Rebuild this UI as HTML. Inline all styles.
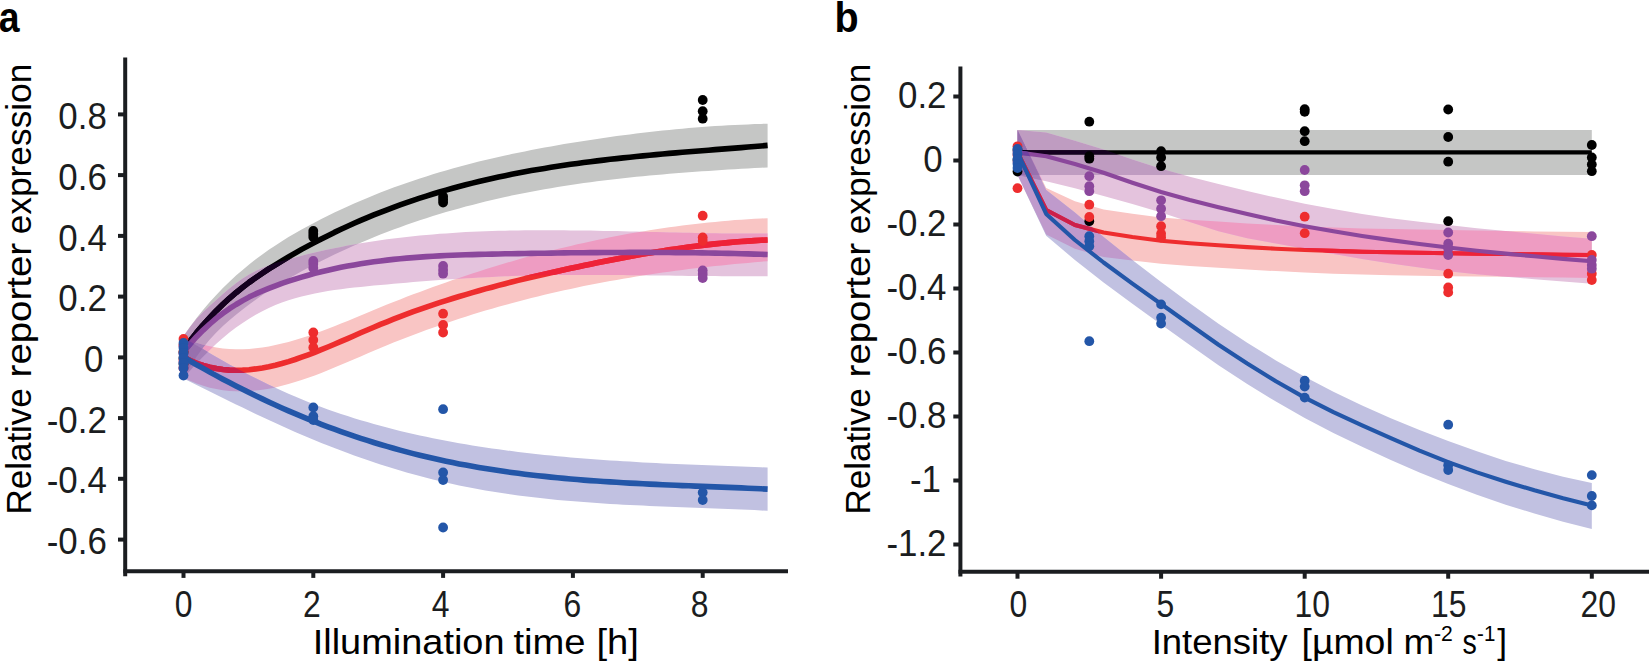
<!DOCTYPE html>
<html><head><meta charset="utf-8"><title>Figure</title>
<style>
html,body{margin:0;padding:0;background:#fff;}
svg{display:block;}
</style></head>
<body>
<svg width="1649" height="661" viewBox="0 0 1649 661">
<rect width="1649" height="661" fill="#fff"/>
<g id="panelA">
<defs><clipPath id="a_black"><path d="M183.5,335.9 L190.1,326.7 L196.6,317.9 L203.2,309.8 L209.8,302.1 L216.3,294.9 L222.9,288.1 L229.4,281.7 L236,275.6 L242.6,269.9 L249.1,264.5 L255.7,259.3 L262.3,254.4 L268.8,249.8 L275.4,245.4 L281.9,241.2 L288.5,237.1 L295.1,233.3 L301.6,229.6 L308.2,226 L314.8,222.5 L321.3,219.1 L327.9,215.8 L334.4,212.6 L341,209.5 L347.6,206.5 L354.1,203.6 L360.7,200.7 L367.3,197.9 L373.8,195.3 L380.4,192.6 L387,190.1 L393.5,187.6 L400.1,185.2 L406.6,182.9 L413.2,180.7 L419.8,178.5 L426.3,176.4 L432.9,174.3 L439.5,172.3 L446,170.4 L452.6,168.5 L459.1,166.7 L465.7,164.9 L472.3,163.2 L478.8,161.6 L485.4,160 L492,158.4 L498.5,156.9 L505.1,155.5 L511.6,154.1 L518.2,152.7 L524.8,151.4 L531.3,150.1 L537.9,148.8 L544.5,147.6 L551,146.4 L557.6,145.2 L564.1,144.1 L570.7,143 L577.3,142 L583.8,140.9 L590.4,139.9 L597,138.9 L603.5,138 L610.1,137 L616.7,136.1 L623.2,135.2 L629.8,134.4 L636.3,133.6 L642.9,132.8 L649.5,132 L656,131.3 L662.6,130.6 L669.2,129.9 L675.7,129.3 L682.3,128.7 L688.8,128.1 L695.4,127.6 L702,127 L708.5,126.6 L715.1,126.1 L721.7,125.7 L728.2,125.3 L734.8,125 L741.3,124.7 L747.9,124.4 L754.5,124.1 L761,123.9 L767.6,123.7 L767.6,167.4 L761,167.7 L754.5,168.1 L747.9,168.5 L741.3,168.8 L734.8,169.2 L728.2,169.6 L721.7,170 L715.1,170.5 L708.5,170.9 L702,171.3 L695.4,171.8 L688.8,172.3 L682.3,172.8 L675.7,173.3 L669.2,173.8 L662.6,174.4 L656,174.9 L649.5,175.5 L642.9,176.2 L636.3,176.8 L629.8,177.5 L623.2,178.2 L616.7,178.9 L610.1,179.7 L603.5,180.5 L597,181.3 L590.4,182.2 L583.8,183.1 L577.3,184 L570.7,185 L564.1,186 L557.6,187.1 L551,188.2 L544.5,189.3 L537.9,190.5 L531.3,191.7 L524.8,193 L518.2,194.3 L511.6,195.6 L505.1,197 L498.5,198.5 L492,200 L485.4,201.6 L478.8,203.2 L472.3,204.9 L465.7,206.6 L459.1,208.4 L452.6,210.2 L446,212.1 L439.5,214.1 L432.9,216.1 L426.3,218.2 L419.8,220.3 L413.2,222.6 L406.6,224.8 L400.1,227.2 L393.5,229.6 L387,232.1 L380.4,234.6 L373.8,237.3 L367.3,240 L360.7,242.7 L354.1,245.6 L347.6,248.5 L341,251.5 L334.4,254.6 L327.9,257.8 L321.3,261 L314.8,264.4 L308.2,267.8 L301.6,271.3 L295.1,274.9 L288.5,278.6 L281.9,282.5 L275.4,286.5 L268.8,290.7 L262.3,295.1 L255.7,299.7 L249.1,304.4 L242.6,309.4 L236,314.7 L229.4,320.2 L222.9,326.1 L216.3,332.5 L209.8,339.6 L203.2,347.5 L196.6,356.5 L190.1,366.6 L183.5,377.9Z"/></clipPath><clipPath id="a_red"><path d="M183.5,337.6 L190.1,340.3 L196.6,342.7 L203.2,344.7 L209.8,346.3 L216.3,347.5 L222.9,348.4 L229.4,349 L236,349.2 L242.6,349.2 L249.1,348.9 L255.7,348.3 L262.3,347.5 L268.8,346.4 L275.4,345.1 L281.9,343.6 L288.5,341.9 L295.1,340.1 L301.6,338.1 L308.2,335.9 L314.8,333.6 L321.3,331.2 L327.9,328.8 L334.4,326.2 L341,323.6 L347.6,320.9 L354.1,318.2 L360.7,315.4 L367.3,312.7 L373.8,310 L380.4,307.3 L387,304.6 L393.5,302 L400.1,299.4 L406.6,296.8 L413.2,294.3 L419.8,291.9 L426.3,289.4 L432.9,287 L439.5,284.7 L446,282.4 L452.6,280.1 L459.1,277.9 L465.7,275.7 L472.3,273.5 L478.8,271.4 L485.4,269.3 L492,267.3 L498.5,265.3 L505.1,263.3 L511.6,261.4 L518.2,259.5 L524.8,257.6 L531.3,255.8 L537.9,254.1 L544.5,252.4 L551,250.7 L557.6,249 L564.1,247.4 L570.7,245.9 L577.3,244.3 L583.8,242.9 L590.4,241.4 L597,240 L603.5,238.7 L610.1,237.3 L616.7,236.1 L623.2,234.8 L629.8,233.6 L636.3,232.5 L642.9,231.4 L649.5,230.3 L656,229.3 L662.6,228.3 L669.2,227.3 L675.7,226.4 L682.3,225.5 L688.8,224.7 L695.4,223.9 L702,223.2 L708.5,222.5 L715.1,221.9 L721.7,221.2 L728.2,220.7 L734.8,220.1 L741.3,219.7 L747.9,219.2 L754.5,218.8 L761,218.5 L767.6,218.2 L767.6,261.2 L761,261.7 L754.5,262.3 L747.9,262.9 L741.3,263.5 L734.8,264.1 L728.2,264.7 L721.7,265.4 L715.1,266.1 L708.5,266.8 L702,267.5 L695.4,268.3 L688.8,269.1 L682.3,269.9 L675.7,270.8 L669.2,271.7 L662.6,272.6 L656,273.6 L649.5,274.5 L642.9,275.5 L636.3,276.6 L629.8,277.7 L623.2,278.8 L616.7,279.9 L610.1,281.1 L603.5,282.3 L597,283.5 L590.4,284.8 L583.8,286.1 L577.3,287.5 L570.7,288.9 L564.1,290.3 L557.6,291.8 L551,293.3 L544.5,294.8 L537.9,296.4 L531.3,298.1 L524.8,299.7 L518.2,301.4 L511.6,303.2 L505.1,305 L498.5,306.8 L492,308.7 L485.4,310.6 L478.8,312.6 L472.3,314.6 L465.7,316.7 L459.1,318.8 L452.6,321 L446,323.2 L439.5,325.4 L432.9,327.7 L426.3,330.1 L419.8,332.5 L413.2,334.9 L406.6,337.4 L400.1,340 L393.5,342.6 L387,345.3 L380.4,348 L373.8,350.7 L367.3,353.5 L360.7,356.4 L354.1,359.2 L347.6,362 L341,364.8 L334.4,367.6 L327.9,370.3 L321.3,372.9 L314.8,375.4 L308.2,377.8 L301.6,380 L295.1,382.1 L288.5,384.1 L281.9,385.8 L275.4,387.4 L268.8,388.7 L262.3,389.8 L255.7,390.6 L249.1,391.1 L242.6,391.4 L236,391.3 L229.4,391 L222.9,390.2 L216.3,389.1 L209.8,387.7 L203.2,385.8 L196.6,383.5 L190.1,380.8 L183.5,377.6Z"/></clipPath><clipPath id="a_purple"><path d="M183.5,336 L190.1,326.7 L196.6,318.8 L203.2,311.9 L209.8,305.7 L216.3,299.9 L222.9,294.1 L229.4,288.5 L236,283.3 L242.6,278.6 L249.1,274.5 L255.7,271 L262.3,268 L268.8,265.4 L275.4,263.1 L281.9,261.1 L288.5,259.2 L295.1,257.4 L301.6,255.7 L308.2,254.1 L314.8,252.5 L321.3,251 L327.9,249.6 L334.4,248.2 L341,246.9 L347.6,245.6 L354.1,244.4 L360.7,243.3 L367.3,242.2 L373.8,241.2 L380.4,240.2 L387,239.3 L393.5,238.5 L400.1,237.7 L406.6,236.9 L413.2,236.2 L419.8,235.6 L426.3,234.9 L432.9,234.4 L439.5,233.8 L446,233.4 L452.6,232.9 L459.1,232.5 L465.7,232.1 L472.3,231.8 L478.8,231.5 L485.4,231.3 L492,231 L498.5,230.8 L505.1,230.7 L511.6,230.5 L518.2,230.4 L524.8,230.3 L531.3,230.3 L537.9,230.2 L544.5,230.2 L551,230.2 L557.6,230.2 L564.1,230.3 L570.7,230.4 L577.3,230.4 L583.8,230.5 L590.4,230.6 L597,230.7 L603.5,230.9 L610.1,231 L616.7,231.1 L623.2,231.3 L629.8,231.4 L636.3,231.6 L642.9,231.8 L649.5,231.9 L656,232.1 L662.6,232.2 L669.2,232.4 L675.7,232.5 L682.3,232.7 L688.8,232.8 L695.4,233 L702,233.1 L708.5,233.2 L715.1,233.3 L721.7,233.4 L728.2,233.4 L734.8,233.5 L741.3,233.5 L747.9,233.6 L754.5,233.6 L761,233.5 L767.6,233.5 L767.6,276.2 L761,276.2 L754.5,276.2 L747.9,276.3 L741.3,276.3 L734.8,276.2 L728.2,276.2 L721.7,276.2 L715.1,276.1 L708.5,276.1 L702,276 L695.4,275.9 L688.8,275.9 L682.3,275.8 L675.7,275.7 L669.2,275.6 L662.6,275.5 L656,275.5 L649.5,275.4 L642.9,275.3 L636.3,275.2 L629.8,275.2 L623.2,275.1 L616.7,275 L610.1,275 L603.5,274.9 L597,274.9 L590.4,274.9 L583.8,274.9 L577.3,274.9 L570.7,274.9 L564.1,275 L557.6,275 L551,275.1 L544.5,275.2 L537.9,275.3 L531.3,275.5 L524.8,275.7 L518.2,275.8 L511.6,276.1 L505.1,276.3 L498.5,276.6 L492,276.9 L485.4,277.2 L478.8,277.5 L472.3,277.9 L465.7,278.3 L459.1,278.7 L452.6,279.2 L446,279.6 L439.5,280.1 L432.9,280.6 L426.3,281.1 L419.8,281.6 L413.2,282.1 L406.6,282.7 L400.1,283.2 L393.5,283.8 L387,284.4 L380.4,285 L373.8,285.6 L367.3,286.2 L360.7,286.9 L354.1,287.6 L347.6,288.3 L341,289.2 L334.4,290.1 L327.9,291.1 L321.3,292.2 L314.8,293.5 L308.2,294.9 L301.6,296.5 L295.1,298.2 L288.5,300.3 L281.9,302.5 L275.4,305.1 L268.8,308 L262.3,311.2 L255.7,314.8 L249.1,318.7 L242.6,322.9 L236,327.6 L229.4,332.6 L222.9,338 L216.3,343.7 L209.8,349.9 L203.2,356.4 L196.6,363.2 L190.1,370.4 L183.5,378Z"/></clipPath><clipPath id="a_blue"><path d="M183.5,337.4 L190.1,341.4 L196.6,345.4 L203.2,349.3 L209.8,353.2 L216.3,357 L222.9,360.7 L229.4,364.4 L236,368 L242.6,371.5 L249.1,374.9 L255.7,378.3 L262.3,381.6 L268.8,384.7 L275.4,387.8 L281.9,390.8 L288.5,393.8 L295.1,396.6 L301.6,399.3 L308.2,401.9 L314.8,404.5 L321.3,407 L327.9,409.4 L334.4,411.7 L341,413.9 L347.6,416.1 L354.1,418.2 L360.7,420.2 L367.3,422.1 L373.8,424 L380.4,425.8 L387,427.6 L393.5,429.3 L400.1,430.9 L406.6,432.5 L413.2,434 L419.8,435.4 L426.3,436.8 L432.9,438.2 L439.5,439.5 L446,440.8 L452.6,442 L459.1,443.2 L465.7,444.3 L472.3,445.4 L478.8,446.4 L485.4,447.4 L492,448.4 L498.5,449.3 L505.1,450.2 L511.6,451.1 L518.2,451.9 L524.8,452.7 L531.3,453.5 L537.9,454.2 L544.5,454.9 L551,455.6 L557.6,456.2 L564.1,456.8 L570.7,457.4 L577.3,458 L583.8,458.5 L590.4,459 L597,459.5 L603.5,460 L610.1,460.4 L616.7,460.8 L623.2,461.2 L629.8,461.6 L636.3,462 L642.9,462.4 L649.5,462.7 L656,463 L662.6,463.4 L669.2,463.7 L675.7,464 L682.3,464.2 L688.8,464.5 L695.4,464.8 L702,465.1 L708.5,465.3 L715.1,465.6 L721.7,465.8 L728.2,466.1 L734.8,466.3 L741.3,466.6 L747.9,466.8 L754.5,467.1 L761,467.3 L767.6,467.6 L767.6,510.8 L761,510.5 L754.5,510.1 L747.9,509.8 L741.3,509.5 L734.8,509.3 L728.2,509 L721.7,508.7 L715.1,508.5 L708.5,508.2 L702,508 L695.4,507.8 L688.8,507.5 L682.3,507.3 L675.7,507 L669.2,506.8 L662.6,506.5 L656,506.2 L649.5,505.9 L642.9,505.6 L636.3,505.3 L629.8,505 L623.2,504.7 L616.7,504.3 L610.1,503.9 L603.5,503.5 L597,503.1 L590.4,502.6 L583.8,502.1 L577.3,501.6 L570.7,501.1 L564.1,500.5 L557.6,499.9 L551,499.3 L544.5,498.6 L537.9,497.8 L531.3,497.1 L524.8,496.3 L518.2,495.4 L511.6,494.5 L505.1,493.6 L498.5,492.6 L492,491.5 L485.4,490.4 L478.8,489.2 L472.3,488 L465.7,486.7 L459.1,485.4 L452.6,484 L446,482.6 L439.5,481 L432.9,479.4 L426.3,477.8 L419.8,476.1 L413.2,474.3 L406.6,472.4 L400.1,470.5 L393.5,468.5 L387,466.5 L380.4,464.4 L373.8,462.2 L367.3,460 L360.7,457.8 L354.1,455.4 L347.6,453 L341,450.6 L334.4,448.1 L327.9,445.5 L321.3,442.9 L314.8,440.2 L308.2,437.5 L301.6,434.8 L295.1,431.9 L288.5,429 L281.9,426.1 L275.4,423.1 L268.8,420.1 L262.3,417 L255.7,413.9 L249.1,410.8 L242.6,407.6 L236,404.4 L229.4,401.2 L222.9,398 L216.3,394.8 L209.8,391.5 L203.2,388.3 L196.6,385.1 L190.1,381.8 L183.5,378.6Z"/></clipPath></defs>
<path d="M183.5,335.9 L190.1,326.7 L196.6,317.9 L203.2,309.8 L209.8,302.1 L216.3,294.9 L222.9,288.1 L229.4,281.7 L236,275.6 L242.6,269.9 L249.1,264.5 L255.7,259.3 L262.3,254.4 L268.8,249.8 L275.4,245.4 L281.9,241.2 L288.5,237.1 L295.1,233.3 L301.6,229.6 L308.2,226 L314.8,222.5 L321.3,219.1 L327.9,215.8 L334.4,212.6 L341,209.5 L347.6,206.5 L354.1,203.6 L360.7,200.7 L367.3,197.9 L373.8,195.3 L380.4,192.6 L387,190.1 L393.5,187.6 L400.1,185.2 L406.6,182.9 L413.2,180.7 L419.8,178.5 L426.3,176.4 L432.9,174.3 L439.5,172.3 L446,170.4 L452.6,168.5 L459.1,166.7 L465.7,164.9 L472.3,163.2 L478.8,161.6 L485.4,160 L492,158.4 L498.5,156.9 L505.1,155.5 L511.6,154.1 L518.2,152.7 L524.8,151.4 L531.3,150.1 L537.9,148.8 L544.5,147.6 L551,146.4 L557.6,145.2 L564.1,144.1 L570.7,143 L577.3,142 L583.8,140.9 L590.4,139.9 L597,138.9 L603.5,138 L610.1,137 L616.7,136.1 L623.2,135.2 L629.8,134.4 L636.3,133.6 L642.9,132.8 L649.5,132 L656,131.3 L662.6,130.6 L669.2,129.9 L675.7,129.3 L682.3,128.7 L688.8,128.1 L695.4,127.6 L702,127 L708.5,126.6 L715.1,126.1 L721.7,125.7 L728.2,125.3 L734.8,125 L741.3,124.7 L747.9,124.4 L754.5,124.1 L761,123.9 L767.6,123.7 L767.6,167.4 L761,167.7 L754.5,168.1 L747.9,168.5 L741.3,168.8 L734.8,169.2 L728.2,169.6 L721.7,170 L715.1,170.5 L708.5,170.9 L702,171.3 L695.4,171.8 L688.8,172.3 L682.3,172.8 L675.7,173.3 L669.2,173.8 L662.6,174.4 L656,174.9 L649.5,175.5 L642.9,176.2 L636.3,176.8 L629.8,177.5 L623.2,178.2 L616.7,178.9 L610.1,179.7 L603.5,180.5 L597,181.3 L590.4,182.2 L583.8,183.1 L577.3,184 L570.7,185 L564.1,186 L557.6,187.1 L551,188.2 L544.5,189.3 L537.9,190.5 L531.3,191.7 L524.8,193 L518.2,194.3 L511.6,195.6 L505.1,197 L498.5,198.5 L492,200 L485.4,201.6 L478.8,203.2 L472.3,204.9 L465.7,206.6 L459.1,208.4 L452.6,210.2 L446,212.1 L439.5,214.1 L432.9,216.1 L426.3,218.2 L419.8,220.3 L413.2,222.6 L406.6,224.8 L400.1,227.2 L393.5,229.6 L387,232.1 L380.4,234.6 L373.8,237.3 L367.3,240 L360.7,242.7 L354.1,245.6 L347.6,248.5 L341,251.5 L334.4,254.6 L327.9,257.8 L321.3,261 L314.8,264.4 L308.2,267.8 L301.6,271.3 L295.1,274.9 L288.5,278.6 L281.9,282.5 L275.4,286.5 L268.8,290.7 L262.3,295.1 L255.7,299.7 L249.1,304.4 L242.6,309.4 L236,314.7 L229.4,320.2 L222.9,326.1 L216.3,332.5 L209.8,339.6 L203.2,347.5 L196.6,356.5 L190.1,366.6 L183.5,377.9Z" fill="#c5c6c5"/>
<path d="M183.5,337.6 L190.1,340.3 L196.6,342.7 L203.2,344.7 L209.8,346.3 L216.3,347.5 L222.9,348.4 L229.4,349 L236,349.2 L242.6,349.2 L249.1,348.9 L255.7,348.3 L262.3,347.5 L268.8,346.4 L275.4,345.1 L281.9,343.6 L288.5,341.9 L295.1,340.1 L301.6,338.1 L308.2,335.9 L314.8,333.6 L321.3,331.2 L327.9,328.8 L334.4,326.2 L341,323.6 L347.6,320.9 L354.1,318.2 L360.7,315.4 L367.3,312.7 L373.8,310 L380.4,307.3 L387,304.6 L393.5,302 L400.1,299.4 L406.6,296.8 L413.2,294.3 L419.8,291.9 L426.3,289.4 L432.9,287 L439.5,284.7 L446,282.4 L452.6,280.1 L459.1,277.9 L465.7,275.7 L472.3,273.5 L478.8,271.4 L485.4,269.3 L492,267.3 L498.5,265.3 L505.1,263.3 L511.6,261.4 L518.2,259.5 L524.8,257.6 L531.3,255.8 L537.9,254.1 L544.5,252.4 L551,250.7 L557.6,249 L564.1,247.4 L570.7,245.9 L577.3,244.3 L583.8,242.9 L590.4,241.4 L597,240 L603.5,238.7 L610.1,237.3 L616.7,236.1 L623.2,234.8 L629.8,233.6 L636.3,232.5 L642.9,231.4 L649.5,230.3 L656,229.3 L662.6,228.3 L669.2,227.3 L675.7,226.4 L682.3,225.5 L688.8,224.7 L695.4,223.9 L702,223.2 L708.5,222.5 L715.1,221.9 L721.7,221.2 L728.2,220.7 L734.8,220.1 L741.3,219.7 L747.9,219.2 L754.5,218.8 L761,218.5 L767.6,218.2 L767.6,261.2 L761,261.7 L754.5,262.3 L747.9,262.9 L741.3,263.5 L734.8,264.1 L728.2,264.7 L721.7,265.4 L715.1,266.1 L708.5,266.8 L702,267.5 L695.4,268.3 L688.8,269.1 L682.3,269.9 L675.7,270.8 L669.2,271.7 L662.6,272.6 L656,273.6 L649.5,274.5 L642.9,275.5 L636.3,276.6 L629.8,277.7 L623.2,278.8 L616.7,279.9 L610.1,281.1 L603.5,282.3 L597,283.5 L590.4,284.8 L583.8,286.1 L577.3,287.5 L570.7,288.9 L564.1,290.3 L557.6,291.8 L551,293.3 L544.5,294.8 L537.9,296.4 L531.3,298.1 L524.8,299.7 L518.2,301.4 L511.6,303.2 L505.1,305 L498.5,306.8 L492,308.7 L485.4,310.6 L478.8,312.6 L472.3,314.6 L465.7,316.7 L459.1,318.8 L452.6,321 L446,323.2 L439.5,325.4 L432.9,327.7 L426.3,330.1 L419.8,332.5 L413.2,334.9 L406.6,337.4 L400.1,340 L393.5,342.6 L387,345.3 L380.4,348 L373.8,350.7 L367.3,353.5 L360.7,356.4 L354.1,359.2 L347.6,362 L341,364.8 L334.4,367.6 L327.9,370.3 L321.3,372.9 L314.8,375.4 L308.2,377.8 L301.6,380 L295.1,382.1 L288.5,384.1 L281.9,385.8 L275.4,387.4 L268.8,388.7 L262.3,389.8 L255.7,390.6 L249.1,391.1 L242.6,391.4 L236,391.3 L229.4,391 L222.9,390.2 L216.3,389.1 L209.8,387.7 L203.2,385.8 L196.6,383.5 L190.1,380.8 L183.5,377.6Z" fill="#f9c5c4"/>
<path d="M183.5,336 L190.1,326.7 L196.6,318.8 L203.2,311.9 L209.8,305.7 L216.3,299.9 L222.9,294.1 L229.4,288.5 L236,283.3 L242.6,278.6 L249.1,274.5 L255.7,271 L262.3,268 L268.8,265.4 L275.4,263.1 L281.9,261.1 L288.5,259.2 L295.1,257.4 L301.6,255.7 L308.2,254.1 L314.8,252.5 L321.3,251 L327.9,249.6 L334.4,248.2 L341,246.9 L347.6,245.6 L354.1,244.4 L360.7,243.3 L367.3,242.2 L373.8,241.2 L380.4,240.2 L387,239.3 L393.5,238.5 L400.1,237.7 L406.6,236.9 L413.2,236.2 L419.8,235.6 L426.3,234.9 L432.9,234.4 L439.5,233.8 L446,233.4 L452.6,232.9 L459.1,232.5 L465.7,232.1 L472.3,231.8 L478.8,231.5 L485.4,231.3 L492,231 L498.5,230.8 L505.1,230.7 L511.6,230.5 L518.2,230.4 L524.8,230.3 L531.3,230.3 L537.9,230.2 L544.5,230.2 L551,230.2 L557.6,230.2 L564.1,230.3 L570.7,230.4 L577.3,230.4 L583.8,230.5 L590.4,230.6 L597,230.7 L603.5,230.9 L610.1,231 L616.7,231.1 L623.2,231.3 L629.8,231.4 L636.3,231.6 L642.9,231.8 L649.5,231.9 L656,232.1 L662.6,232.2 L669.2,232.4 L675.7,232.5 L682.3,232.7 L688.8,232.8 L695.4,233 L702,233.1 L708.5,233.2 L715.1,233.3 L721.7,233.4 L728.2,233.4 L734.8,233.5 L741.3,233.5 L747.9,233.6 L754.5,233.6 L761,233.5 L767.6,233.5 L767.6,276.2 L761,276.2 L754.5,276.2 L747.9,276.3 L741.3,276.3 L734.8,276.2 L728.2,276.2 L721.7,276.2 L715.1,276.1 L708.5,276.1 L702,276 L695.4,275.9 L688.8,275.9 L682.3,275.8 L675.7,275.7 L669.2,275.6 L662.6,275.5 L656,275.5 L649.5,275.4 L642.9,275.3 L636.3,275.2 L629.8,275.2 L623.2,275.1 L616.7,275 L610.1,275 L603.5,274.9 L597,274.9 L590.4,274.9 L583.8,274.9 L577.3,274.9 L570.7,274.9 L564.1,275 L557.6,275 L551,275.1 L544.5,275.2 L537.9,275.3 L531.3,275.5 L524.8,275.7 L518.2,275.8 L511.6,276.1 L505.1,276.3 L498.5,276.6 L492,276.9 L485.4,277.2 L478.8,277.5 L472.3,277.9 L465.7,278.3 L459.1,278.7 L452.6,279.2 L446,279.6 L439.5,280.1 L432.9,280.6 L426.3,281.1 L419.8,281.6 L413.2,282.1 L406.6,282.7 L400.1,283.2 L393.5,283.8 L387,284.4 L380.4,285 L373.8,285.6 L367.3,286.2 L360.7,286.9 L354.1,287.6 L347.6,288.3 L341,289.2 L334.4,290.1 L327.9,291.1 L321.3,292.2 L314.8,293.5 L308.2,294.9 L301.6,296.5 L295.1,298.2 L288.5,300.3 L281.9,302.5 L275.4,305.1 L268.8,308 L262.3,311.2 L255.7,314.8 L249.1,318.7 L242.6,322.9 L236,327.6 L229.4,332.6 L222.9,338 L216.3,343.7 L209.8,349.9 L203.2,356.4 L196.6,363.2 L190.1,370.4 L183.5,378Z" fill="#e4c3dd"/>
<path d="M183.5,337.4 L190.1,341.4 L196.6,345.4 L203.2,349.3 L209.8,353.2 L216.3,357 L222.9,360.7 L229.4,364.4 L236,368 L242.6,371.5 L249.1,374.9 L255.7,378.3 L262.3,381.6 L268.8,384.7 L275.4,387.8 L281.9,390.8 L288.5,393.8 L295.1,396.6 L301.6,399.3 L308.2,401.9 L314.8,404.5 L321.3,407 L327.9,409.4 L334.4,411.7 L341,413.9 L347.6,416.1 L354.1,418.2 L360.7,420.2 L367.3,422.1 L373.8,424 L380.4,425.8 L387,427.6 L393.5,429.3 L400.1,430.9 L406.6,432.5 L413.2,434 L419.8,435.4 L426.3,436.8 L432.9,438.2 L439.5,439.5 L446,440.8 L452.6,442 L459.1,443.2 L465.7,444.3 L472.3,445.4 L478.8,446.4 L485.4,447.4 L492,448.4 L498.5,449.3 L505.1,450.2 L511.6,451.1 L518.2,451.9 L524.8,452.7 L531.3,453.5 L537.9,454.2 L544.5,454.9 L551,455.6 L557.6,456.2 L564.1,456.8 L570.7,457.4 L577.3,458 L583.8,458.5 L590.4,459 L597,459.5 L603.5,460 L610.1,460.4 L616.7,460.8 L623.2,461.2 L629.8,461.6 L636.3,462 L642.9,462.4 L649.5,462.7 L656,463 L662.6,463.4 L669.2,463.7 L675.7,464 L682.3,464.2 L688.8,464.5 L695.4,464.8 L702,465.1 L708.5,465.3 L715.1,465.6 L721.7,465.8 L728.2,466.1 L734.8,466.3 L741.3,466.6 L747.9,466.8 L754.5,467.1 L761,467.3 L767.6,467.6 L767.6,510.8 L761,510.5 L754.5,510.1 L747.9,509.8 L741.3,509.5 L734.8,509.3 L728.2,509 L721.7,508.7 L715.1,508.5 L708.5,508.2 L702,508 L695.4,507.8 L688.8,507.5 L682.3,507.3 L675.7,507 L669.2,506.8 L662.6,506.5 L656,506.2 L649.5,505.9 L642.9,505.6 L636.3,505.3 L629.8,505 L623.2,504.7 L616.7,504.3 L610.1,503.9 L603.5,503.5 L597,503.1 L590.4,502.6 L583.8,502.1 L577.3,501.6 L570.7,501.1 L564.1,500.5 L557.6,499.9 L551,499.3 L544.5,498.6 L537.9,497.8 L531.3,497.1 L524.8,496.3 L518.2,495.4 L511.6,494.5 L505.1,493.6 L498.5,492.6 L492,491.5 L485.4,490.4 L478.8,489.2 L472.3,488 L465.7,486.7 L459.1,485.4 L452.6,484 L446,482.6 L439.5,481 L432.9,479.4 L426.3,477.8 L419.8,476.1 L413.2,474.3 L406.6,472.4 L400.1,470.5 L393.5,468.5 L387,466.5 L380.4,464.4 L373.8,462.2 L367.3,460 L360.7,457.8 L354.1,455.4 L347.6,453 L341,450.6 L334.4,448.1 L327.9,445.5 L321.3,442.9 L314.8,440.2 L308.2,437.5 L301.6,434.8 L295.1,431.9 L288.5,429 L281.9,426.1 L275.4,423.1 L268.8,420.1 L262.3,417 L255.7,413.9 L249.1,410.8 L242.6,407.6 L236,404.4 L229.4,401.2 L222.9,398 L216.3,394.8 L209.8,391.5 L203.2,388.3 L196.6,385.1 L190.1,381.8 L183.5,378.6Z" fill="#c1c1e1"/>
<g clip-path="url(#a_black)"><path d="M183.5,337.6 L190.1,340.3 L196.6,342.7 L203.2,344.7 L209.8,346.3 L216.3,347.5 L222.9,348.4 L229.4,349 L236,349.2 L242.6,349.2 L249.1,348.9 L255.7,348.3 L262.3,347.5 L268.8,346.4 L275.4,345.1 L281.9,343.6 L288.5,341.9 L295.1,340.1 L301.6,338.1 L308.2,335.9 L314.8,333.6 L321.3,331.2 L327.9,328.8 L334.4,326.2 L341,323.6 L347.6,320.9 L354.1,318.2 L360.7,315.4 L367.3,312.7 L373.8,310 L380.4,307.3 L387,304.6 L393.5,302 L400.1,299.4 L406.6,296.8 L413.2,294.3 L419.8,291.9 L426.3,289.4 L432.9,287 L439.5,284.7 L446,282.4 L452.6,280.1 L459.1,277.9 L465.7,275.7 L472.3,273.5 L478.8,271.4 L485.4,269.3 L492,267.3 L498.5,265.3 L505.1,263.3 L511.6,261.4 L518.2,259.5 L524.8,257.6 L531.3,255.8 L537.9,254.1 L544.5,252.4 L551,250.7 L557.6,249 L564.1,247.4 L570.7,245.9 L577.3,244.3 L583.8,242.9 L590.4,241.4 L597,240 L603.5,238.7 L610.1,237.3 L616.7,236.1 L623.2,234.8 L629.8,233.6 L636.3,232.5 L642.9,231.4 L649.5,230.3 L656,229.3 L662.6,228.3 L669.2,227.3 L675.7,226.4 L682.3,225.5 L688.8,224.7 L695.4,223.9 L702,223.2 L708.5,222.5 L715.1,221.9 L721.7,221.2 L728.2,220.7 L734.8,220.1 L741.3,219.7 L747.9,219.2 L754.5,218.8 L761,218.5 L767.6,218.2 L767.6,261.2 L761,261.7 L754.5,262.3 L747.9,262.9 L741.3,263.5 L734.8,264.1 L728.2,264.7 L721.7,265.4 L715.1,266.1 L708.5,266.8 L702,267.5 L695.4,268.3 L688.8,269.1 L682.3,269.9 L675.7,270.8 L669.2,271.7 L662.6,272.6 L656,273.6 L649.5,274.5 L642.9,275.5 L636.3,276.6 L629.8,277.7 L623.2,278.8 L616.7,279.9 L610.1,281.1 L603.5,282.3 L597,283.5 L590.4,284.8 L583.8,286.1 L577.3,287.5 L570.7,288.9 L564.1,290.3 L557.6,291.8 L551,293.3 L544.5,294.8 L537.9,296.4 L531.3,298.1 L524.8,299.7 L518.2,301.4 L511.6,303.2 L505.1,305 L498.5,306.8 L492,308.7 L485.4,310.6 L478.8,312.6 L472.3,314.6 L465.7,316.7 L459.1,318.8 L452.6,321 L446,323.2 L439.5,325.4 L432.9,327.7 L426.3,330.1 L419.8,332.5 L413.2,334.9 L406.6,337.4 L400.1,340 L393.5,342.6 L387,345.3 L380.4,348 L373.8,350.7 L367.3,353.5 L360.7,356.4 L354.1,359.2 L347.6,362 L341,364.8 L334.4,367.6 L327.9,370.3 L321.3,372.9 L314.8,375.4 L308.2,377.8 L301.6,380 L295.1,382.1 L288.5,384.1 L281.9,385.8 L275.4,387.4 L268.8,388.7 L262.3,389.8 L255.7,390.6 L249.1,391.1 L242.6,391.4 L236,391.3 L229.4,391 L222.9,390.2 L216.3,389.1 L209.8,387.7 L203.2,385.8 L196.6,383.5 L190.1,380.8 L183.5,377.6Z" fill="#c9a3a4"/></g>
<g clip-path="url(#a_black)"><path d="M183.5,336 L190.1,326.7 L196.6,318.8 L203.2,311.9 L209.8,305.7 L216.3,299.9 L222.9,294.1 L229.4,288.5 L236,283.3 L242.6,278.6 L249.1,274.5 L255.7,271 L262.3,268 L268.8,265.4 L275.4,263.1 L281.9,261.1 L288.5,259.2 L295.1,257.4 L301.6,255.7 L308.2,254.1 L314.8,252.5 L321.3,251 L327.9,249.6 L334.4,248.2 L341,246.9 L347.6,245.6 L354.1,244.4 L360.7,243.3 L367.3,242.2 L373.8,241.2 L380.4,240.2 L387,239.3 L393.5,238.5 L400.1,237.7 L406.6,236.9 L413.2,236.2 L419.8,235.6 L426.3,234.9 L432.9,234.4 L439.5,233.8 L446,233.4 L452.6,232.9 L459.1,232.5 L465.7,232.1 L472.3,231.8 L478.8,231.5 L485.4,231.3 L492,231 L498.5,230.8 L505.1,230.7 L511.6,230.5 L518.2,230.4 L524.8,230.3 L531.3,230.3 L537.9,230.2 L544.5,230.2 L551,230.2 L557.6,230.2 L564.1,230.3 L570.7,230.4 L577.3,230.4 L583.8,230.5 L590.4,230.6 L597,230.7 L603.5,230.9 L610.1,231 L616.7,231.1 L623.2,231.3 L629.8,231.4 L636.3,231.6 L642.9,231.8 L649.5,231.9 L656,232.1 L662.6,232.2 L669.2,232.4 L675.7,232.5 L682.3,232.7 L688.8,232.8 L695.4,233 L702,233.1 L708.5,233.2 L715.1,233.3 L721.7,233.4 L728.2,233.4 L734.8,233.5 L741.3,233.5 L747.9,233.6 L754.5,233.6 L761,233.5 L767.6,233.5 L767.6,276.2 L761,276.2 L754.5,276.2 L747.9,276.3 L741.3,276.3 L734.8,276.2 L728.2,276.2 L721.7,276.2 L715.1,276.1 L708.5,276.1 L702,276 L695.4,275.9 L688.8,275.9 L682.3,275.8 L675.7,275.7 L669.2,275.6 L662.6,275.5 L656,275.5 L649.5,275.4 L642.9,275.3 L636.3,275.2 L629.8,275.2 L623.2,275.1 L616.7,275 L610.1,275 L603.5,274.9 L597,274.9 L590.4,274.9 L583.8,274.9 L577.3,274.9 L570.7,274.9 L564.1,275 L557.6,275 L551,275.1 L544.5,275.2 L537.9,275.3 L531.3,275.5 L524.8,275.7 L518.2,275.8 L511.6,276.1 L505.1,276.3 L498.5,276.6 L492,276.9 L485.4,277.2 L478.8,277.5 L472.3,277.9 L465.7,278.3 L459.1,278.7 L452.6,279.2 L446,279.6 L439.5,280.1 L432.9,280.6 L426.3,281.1 L419.8,281.6 L413.2,282.1 L406.6,282.7 L400.1,283.2 L393.5,283.8 L387,284.4 L380.4,285 L373.8,285.6 L367.3,286.2 L360.7,286.9 L354.1,287.6 L347.6,288.3 L341,289.2 L334.4,290.1 L327.9,291.1 L321.3,292.2 L314.8,293.5 L308.2,294.9 L301.6,296.5 L295.1,298.2 L288.5,300.3 L281.9,302.5 L275.4,305.1 L268.8,308 L262.3,311.2 L255.7,314.8 L249.1,318.7 L242.6,322.9 L236,327.6 L229.4,332.6 L222.9,338 L216.3,343.7 L209.8,349.9 L203.2,356.4 L196.6,363.2 L190.1,370.4 L183.5,378Z" fill="#bf9cc1"/></g>
<g clip-path="url(#a_black)"><path d="M183.5,337.4 L190.1,341.4 L196.6,345.4 L203.2,349.3 L209.8,353.2 L216.3,357 L222.9,360.7 L229.4,364.4 L236,368 L242.6,371.5 L249.1,374.9 L255.7,378.3 L262.3,381.6 L268.8,384.7 L275.4,387.8 L281.9,390.8 L288.5,393.8 L295.1,396.6 L301.6,399.3 L308.2,401.9 L314.8,404.5 L321.3,407 L327.9,409.4 L334.4,411.7 L341,413.9 L347.6,416.1 L354.1,418.2 L360.7,420.2 L367.3,422.1 L373.8,424 L380.4,425.8 L387,427.6 L393.5,429.3 L400.1,430.9 L406.6,432.5 L413.2,434 L419.8,435.4 L426.3,436.8 L432.9,438.2 L439.5,439.5 L446,440.8 L452.6,442 L459.1,443.2 L465.7,444.3 L472.3,445.4 L478.8,446.4 L485.4,447.4 L492,448.4 L498.5,449.3 L505.1,450.2 L511.6,451.1 L518.2,451.9 L524.8,452.7 L531.3,453.5 L537.9,454.2 L544.5,454.9 L551,455.6 L557.6,456.2 L564.1,456.8 L570.7,457.4 L577.3,458 L583.8,458.5 L590.4,459 L597,459.5 L603.5,460 L610.1,460.4 L616.7,460.8 L623.2,461.2 L629.8,461.6 L636.3,462 L642.9,462.4 L649.5,462.7 L656,463 L662.6,463.4 L669.2,463.7 L675.7,464 L682.3,464.2 L688.8,464.5 L695.4,464.8 L702,465.1 L708.5,465.3 L715.1,465.6 L721.7,465.8 L728.2,466.1 L734.8,466.3 L741.3,466.6 L747.9,466.8 L754.5,467.1 L761,467.3 L767.6,467.6 L767.6,510.8 L761,510.5 L754.5,510.1 L747.9,509.8 L741.3,509.5 L734.8,509.3 L728.2,509 L721.7,508.7 L715.1,508.5 L708.5,508.2 L702,508 L695.4,507.8 L688.8,507.5 L682.3,507.3 L675.7,507 L669.2,506.8 L662.6,506.5 L656,506.2 L649.5,505.9 L642.9,505.6 L636.3,505.3 L629.8,505 L623.2,504.7 L616.7,504.3 L610.1,503.9 L603.5,503.5 L597,503.1 L590.4,502.6 L583.8,502.1 L577.3,501.6 L570.7,501.1 L564.1,500.5 L557.6,499.9 L551,499.3 L544.5,498.6 L537.9,497.8 L531.3,497.1 L524.8,496.3 L518.2,495.4 L511.6,494.5 L505.1,493.6 L498.5,492.6 L492,491.5 L485.4,490.4 L478.8,489.2 L472.3,488 L465.7,486.7 L459.1,485.4 L452.6,484 L446,482.6 L439.5,481 L432.9,479.4 L426.3,477.8 L419.8,476.1 L413.2,474.3 L406.6,472.4 L400.1,470.5 L393.5,468.5 L387,466.5 L380.4,464.4 L373.8,462.2 L367.3,460 L360.7,457.8 L354.1,455.4 L347.6,453 L341,450.6 L334.4,448.1 L327.9,445.5 L321.3,442.9 L314.8,440.2 L308.2,437.5 L301.6,434.8 L295.1,431.9 L288.5,429 L281.9,426.1 L275.4,423.1 L268.8,420.1 L262.3,417 L255.7,413.9 L249.1,410.8 L242.6,407.6 L236,404.4 L229.4,401.2 L222.9,398 L216.3,394.8 L209.8,391.5 L203.2,388.3 L196.6,385.1 L190.1,381.8 L183.5,378.6Z" fill="#9c9cc0"/></g>
<g clip-path="url(#a_red)"><path d="M183.5,336 L190.1,326.7 L196.6,318.8 L203.2,311.9 L209.8,305.7 L216.3,299.9 L222.9,294.1 L229.4,288.5 L236,283.3 L242.6,278.6 L249.1,274.5 L255.7,271 L262.3,268 L268.8,265.4 L275.4,263.1 L281.9,261.1 L288.5,259.2 L295.1,257.4 L301.6,255.7 L308.2,254.1 L314.8,252.5 L321.3,251 L327.9,249.6 L334.4,248.2 L341,246.9 L347.6,245.6 L354.1,244.4 L360.7,243.3 L367.3,242.2 L373.8,241.2 L380.4,240.2 L387,239.3 L393.5,238.5 L400.1,237.7 L406.6,236.9 L413.2,236.2 L419.8,235.6 L426.3,234.9 L432.9,234.4 L439.5,233.8 L446,233.4 L452.6,232.9 L459.1,232.5 L465.7,232.1 L472.3,231.8 L478.8,231.5 L485.4,231.3 L492,231 L498.5,230.8 L505.1,230.7 L511.6,230.5 L518.2,230.4 L524.8,230.3 L531.3,230.3 L537.9,230.2 L544.5,230.2 L551,230.2 L557.6,230.2 L564.1,230.3 L570.7,230.4 L577.3,230.4 L583.8,230.5 L590.4,230.6 L597,230.7 L603.5,230.9 L610.1,231 L616.7,231.1 L623.2,231.3 L629.8,231.4 L636.3,231.6 L642.9,231.8 L649.5,231.9 L656,232.1 L662.6,232.2 L669.2,232.4 L675.7,232.5 L682.3,232.7 L688.8,232.8 L695.4,233 L702,233.1 L708.5,233.2 L715.1,233.3 L721.7,233.4 L728.2,233.4 L734.8,233.5 L741.3,233.5 L747.9,233.6 L754.5,233.6 L761,233.5 L767.6,233.5 L767.6,276.2 L761,276.2 L754.5,276.2 L747.9,276.3 L741.3,276.3 L734.8,276.2 L728.2,276.2 L721.7,276.2 L715.1,276.1 L708.5,276.1 L702,276 L695.4,275.9 L688.8,275.9 L682.3,275.8 L675.7,275.7 L669.2,275.6 L662.6,275.5 L656,275.5 L649.5,275.4 L642.9,275.3 L636.3,275.2 L629.8,275.2 L623.2,275.1 L616.7,275 L610.1,275 L603.5,274.9 L597,274.9 L590.4,274.9 L583.8,274.9 L577.3,274.9 L570.7,274.9 L564.1,275 L557.6,275 L551,275.1 L544.5,275.2 L537.9,275.3 L531.3,275.5 L524.8,275.7 L518.2,275.8 L511.6,276.1 L505.1,276.3 L498.5,276.6 L492,276.9 L485.4,277.2 L478.8,277.5 L472.3,277.9 L465.7,278.3 L459.1,278.7 L452.6,279.2 L446,279.6 L439.5,280.1 L432.9,280.6 L426.3,281.1 L419.8,281.6 L413.2,282.1 L406.6,282.7 L400.1,283.2 L393.5,283.8 L387,284.4 L380.4,285 L373.8,285.6 L367.3,286.2 L360.7,286.9 L354.1,287.6 L347.6,288.3 L341,289.2 L334.4,290.1 L327.9,291.1 L321.3,292.2 L314.8,293.5 L308.2,294.9 L301.6,296.5 L295.1,298.2 L288.5,300.3 L281.9,302.5 L275.4,305.1 L268.8,308 L262.3,311.2 L255.7,314.8 L249.1,318.7 L242.6,322.9 L236,327.6 L229.4,332.6 L222.9,338 L216.3,343.7 L209.8,349.9 L203.2,356.4 L196.6,363.2 L190.1,370.4 L183.5,378Z" fill="#ee9cc2"/></g>
<g clip-path="url(#a_red)"><path d="M183.5,337.4 L190.1,341.4 L196.6,345.4 L203.2,349.3 L209.8,353.2 L216.3,357 L222.9,360.7 L229.4,364.4 L236,368 L242.6,371.5 L249.1,374.9 L255.7,378.3 L262.3,381.6 L268.8,384.7 L275.4,387.8 L281.9,390.8 L288.5,393.8 L295.1,396.6 L301.6,399.3 L308.2,401.9 L314.8,404.5 L321.3,407 L327.9,409.4 L334.4,411.7 L341,413.9 L347.6,416.1 L354.1,418.2 L360.7,420.2 L367.3,422.1 L373.8,424 L380.4,425.8 L387,427.6 L393.5,429.3 L400.1,430.9 L406.6,432.5 L413.2,434 L419.8,435.4 L426.3,436.8 L432.9,438.2 L439.5,439.5 L446,440.8 L452.6,442 L459.1,443.2 L465.7,444.3 L472.3,445.4 L478.8,446.4 L485.4,447.4 L492,448.4 L498.5,449.3 L505.1,450.2 L511.6,451.1 L518.2,451.9 L524.8,452.7 L531.3,453.5 L537.9,454.2 L544.5,454.9 L551,455.6 L557.6,456.2 L564.1,456.8 L570.7,457.4 L577.3,458 L583.8,458.5 L590.4,459 L597,459.5 L603.5,460 L610.1,460.4 L616.7,460.8 L623.2,461.2 L629.8,461.6 L636.3,462 L642.9,462.4 L649.5,462.7 L656,463 L662.6,463.4 L669.2,463.7 L675.7,464 L682.3,464.2 L688.8,464.5 L695.4,464.8 L702,465.1 L708.5,465.3 L715.1,465.6 L721.7,465.8 L728.2,466.1 L734.8,466.3 L741.3,466.6 L747.9,466.8 L754.5,467.1 L761,467.3 L767.6,467.6 L767.6,510.8 L761,510.5 L754.5,510.1 L747.9,509.8 L741.3,509.5 L734.8,509.3 L728.2,509 L721.7,508.7 L715.1,508.5 L708.5,508.2 L702,508 L695.4,507.8 L688.8,507.5 L682.3,507.3 L675.7,507 L669.2,506.8 L662.6,506.5 L656,506.2 L649.5,505.9 L642.9,505.6 L636.3,505.3 L629.8,505 L623.2,504.7 L616.7,504.3 L610.1,503.9 L603.5,503.5 L597,503.1 L590.4,502.6 L583.8,502.1 L577.3,501.6 L570.7,501.1 L564.1,500.5 L557.6,499.9 L551,499.3 L544.5,498.6 L537.9,497.8 L531.3,497.1 L524.8,496.3 L518.2,495.4 L511.6,494.5 L505.1,493.6 L498.5,492.6 L492,491.5 L485.4,490.4 L478.8,489.2 L472.3,488 L465.7,486.7 L459.1,485.4 L452.6,484 L446,482.6 L439.5,481 L432.9,479.4 L426.3,477.8 L419.8,476.1 L413.2,474.3 L406.6,472.4 L400.1,470.5 L393.5,468.5 L387,466.5 L380.4,464.4 L373.8,462.2 L367.3,460 L360.7,457.8 L354.1,455.4 L347.6,453 L341,450.6 L334.4,448.1 L327.9,445.5 L321.3,442.9 L314.8,440.2 L308.2,437.5 L301.6,434.8 L295.1,431.9 L288.5,429 L281.9,426.1 L275.4,423.1 L268.8,420.1 L262.3,417 L255.7,413.9 L249.1,410.8 L242.6,407.6 L236,404.4 L229.4,401.2 L222.9,398 L216.3,394.8 L209.8,391.5 L203.2,388.3 L196.6,385.1 L190.1,381.8 L183.5,378.6Z" fill="#bf9acc"/></g>
<g clip-path="url(#a_purple)"><path d="M183.5,337.4 L190.1,341.4 L196.6,345.4 L203.2,349.3 L209.8,353.2 L216.3,357 L222.9,360.7 L229.4,364.4 L236,368 L242.6,371.5 L249.1,374.9 L255.7,378.3 L262.3,381.6 L268.8,384.7 L275.4,387.8 L281.9,390.8 L288.5,393.8 L295.1,396.6 L301.6,399.3 L308.2,401.9 L314.8,404.5 L321.3,407 L327.9,409.4 L334.4,411.7 L341,413.9 L347.6,416.1 L354.1,418.2 L360.7,420.2 L367.3,422.1 L373.8,424 L380.4,425.8 L387,427.6 L393.5,429.3 L400.1,430.9 L406.6,432.5 L413.2,434 L419.8,435.4 L426.3,436.8 L432.9,438.2 L439.5,439.5 L446,440.8 L452.6,442 L459.1,443.2 L465.7,444.3 L472.3,445.4 L478.8,446.4 L485.4,447.4 L492,448.4 L498.5,449.3 L505.1,450.2 L511.6,451.1 L518.2,451.9 L524.8,452.7 L531.3,453.5 L537.9,454.2 L544.5,454.9 L551,455.6 L557.6,456.2 L564.1,456.8 L570.7,457.4 L577.3,458 L583.8,458.5 L590.4,459 L597,459.5 L603.5,460 L610.1,460.4 L616.7,460.8 L623.2,461.2 L629.8,461.6 L636.3,462 L642.9,462.4 L649.5,462.7 L656,463 L662.6,463.4 L669.2,463.7 L675.7,464 L682.3,464.2 L688.8,464.5 L695.4,464.8 L702,465.1 L708.5,465.3 L715.1,465.6 L721.7,465.8 L728.2,466.1 L734.8,466.3 L741.3,466.6 L747.9,466.8 L754.5,467.1 L761,467.3 L767.6,467.6 L767.6,510.8 L761,510.5 L754.5,510.1 L747.9,509.8 L741.3,509.5 L734.8,509.3 L728.2,509 L721.7,508.7 L715.1,508.5 L708.5,508.2 L702,508 L695.4,507.8 L688.8,507.5 L682.3,507.3 L675.7,507 L669.2,506.8 L662.6,506.5 L656,506.2 L649.5,505.9 L642.9,505.6 L636.3,505.3 L629.8,505 L623.2,504.7 L616.7,504.3 L610.1,503.9 L603.5,503.5 L597,503.1 L590.4,502.6 L583.8,502.1 L577.3,501.6 L570.7,501.1 L564.1,500.5 L557.6,499.9 L551,499.3 L544.5,498.6 L537.9,497.8 L531.3,497.1 L524.8,496.3 L518.2,495.4 L511.6,494.5 L505.1,493.6 L498.5,492.6 L492,491.5 L485.4,490.4 L478.8,489.2 L472.3,488 L465.7,486.7 L459.1,485.4 L452.6,484 L446,482.6 L439.5,481 L432.9,479.4 L426.3,477.8 L419.8,476.1 L413.2,474.3 L406.6,472.4 L400.1,470.5 L393.5,468.5 L387,466.5 L380.4,464.4 L373.8,462.2 L367.3,460 L360.7,457.8 L354.1,455.4 L347.6,453 L341,450.6 L334.4,448.1 L327.9,445.5 L321.3,442.9 L314.8,440.2 L308.2,437.5 L301.6,434.8 L295.1,431.9 L288.5,429 L281.9,426.1 L275.4,423.1 L268.8,420.1 L262.3,417 L255.7,413.9 L249.1,410.8 L242.6,407.6 L236,404.4 L229.4,401.2 L222.9,398 L216.3,394.8 L209.8,391.5 L203.2,388.3 L196.6,385.1 L190.1,381.8 L183.5,378.6Z" fill="#ad96c8"/></g>
<g clip-path="url(#a_red)"><g clip-path="url(#a_black)"><path d="M183.5,336 L190.1,326.7 L196.6,318.8 L203.2,311.9 L209.8,305.7 L216.3,299.9 L222.9,294.1 L229.4,288.5 L236,283.3 L242.6,278.6 L249.1,274.5 L255.7,271 L262.3,268 L268.8,265.4 L275.4,263.1 L281.9,261.1 L288.5,259.2 L295.1,257.4 L301.6,255.7 L308.2,254.1 L314.8,252.5 L321.3,251 L327.9,249.6 L334.4,248.2 L341,246.9 L347.6,245.6 L354.1,244.4 L360.7,243.3 L367.3,242.2 L373.8,241.2 L380.4,240.2 L387,239.3 L393.5,238.5 L400.1,237.7 L406.6,236.9 L413.2,236.2 L419.8,235.6 L426.3,234.9 L432.9,234.4 L439.5,233.8 L446,233.4 L452.6,232.9 L459.1,232.5 L465.7,232.1 L472.3,231.8 L478.8,231.5 L485.4,231.3 L492,231 L498.5,230.8 L505.1,230.7 L511.6,230.5 L518.2,230.4 L524.8,230.3 L531.3,230.3 L537.9,230.2 L544.5,230.2 L551,230.2 L557.6,230.2 L564.1,230.3 L570.7,230.4 L577.3,230.4 L583.8,230.5 L590.4,230.6 L597,230.7 L603.5,230.9 L610.1,231 L616.7,231.1 L623.2,231.3 L629.8,231.4 L636.3,231.6 L642.9,231.8 L649.5,231.9 L656,232.1 L662.6,232.2 L669.2,232.4 L675.7,232.5 L682.3,232.7 L688.8,232.8 L695.4,233 L702,233.1 L708.5,233.2 L715.1,233.3 L721.7,233.4 L728.2,233.4 L734.8,233.5 L741.3,233.5 L747.9,233.6 L754.5,233.6 L761,233.5 L767.6,233.5 L767.6,276.2 L761,276.2 L754.5,276.2 L747.9,276.3 L741.3,276.3 L734.8,276.2 L728.2,276.2 L721.7,276.2 L715.1,276.1 L708.5,276.1 L702,276 L695.4,275.9 L688.8,275.9 L682.3,275.8 L675.7,275.7 L669.2,275.6 L662.6,275.5 L656,275.5 L649.5,275.4 L642.9,275.3 L636.3,275.2 L629.8,275.2 L623.2,275.1 L616.7,275 L610.1,275 L603.5,274.9 L597,274.9 L590.4,274.9 L583.8,274.9 L577.3,274.9 L570.7,274.9 L564.1,275 L557.6,275 L551,275.1 L544.5,275.2 L537.9,275.3 L531.3,275.5 L524.8,275.7 L518.2,275.8 L511.6,276.1 L505.1,276.3 L498.5,276.6 L492,276.9 L485.4,277.2 L478.8,277.5 L472.3,277.9 L465.7,278.3 L459.1,278.7 L452.6,279.2 L446,279.6 L439.5,280.1 L432.9,280.6 L426.3,281.1 L419.8,281.6 L413.2,282.1 L406.6,282.7 L400.1,283.2 L393.5,283.8 L387,284.4 L380.4,285 L373.8,285.6 L367.3,286.2 L360.7,286.9 L354.1,287.6 L347.6,288.3 L341,289.2 L334.4,290.1 L327.9,291.1 L321.3,292.2 L314.8,293.5 L308.2,294.9 L301.6,296.5 L295.1,298.2 L288.5,300.3 L281.9,302.5 L275.4,305.1 L268.8,308 L262.3,311.2 L255.7,314.8 L249.1,318.7 L242.6,322.9 L236,327.6 L229.4,332.6 L222.9,338 L216.3,343.7 L209.8,349.9 L203.2,356.4 L196.6,363.2 L190.1,370.4 L183.5,378Z" fill="#a57fb8"/></g></g>
<g clip-path="url(#a_red)"><g clip-path="url(#a_black)"><path d="M183.5,337.4 L190.1,341.4 L196.6,345.4 L203.2,349.3 L209.8,353.2 L216.3,357 L222.9,360.7 L229.4,364.4 L236,368 L242.6,371.5 L249.1,374.9 L255.7,378.3 L262.3,381.6 L268.8,384.7 L275.4,387.8 L281.9,390.8 L288.5,393.8 L295.1,396.6 L301.6,399.3 L308.2,401.9 L314.8,404.5 L321.3,407 L327.9,409.4 L334.4,411.7 L341,413.9 L347.6,416.1 L354.1,418.2 L360.7,420.2 L367.3,422.1 L373.8,424 L380.4,425.8 L387,427.6 L393.5,429.3 L400.1,430.9 L406.6,432.5 L413.2,434 L419.8,435.4 L426.3,436.8 L432.9,438.2 L439.5,439.5 L446,440.8 L452.6,442 L459.1,443.2 L465.7,444.3 L472.3,445.4 L478.8,446.4 L485.4,447.4 L492,448.4 L498.5,449.3 L505.1,450.2 L511.6,451.1 L518.2,451.9 L524.8,452.7 L531.3,453.5 L537.9,454.2 L544.5,454.9 L551,455.6 L557.6,456.2 L564.1,456.8 L570.7,457.4 L577.3,458 L583.8,458.5 L590.4,459 L597,459.5 L603.5,460 L610.1,460.4 L616.7,460.8 L623.2,461.2 L629.8,461.6 L636.3,462 L642.9,462.4 L649.5,462.7 L656,463 L662.6,463.4 L669.2,463.7 L675.7,464 L682.3,464.2 L688.8,464.5 L695.4,464.8 L702,465.1 L708.5,465.3 L715.1,465.6 L721.7,465.8 L728.2,466.1 L734.8,466.3 L741.3,466.6 L747.9,466.8 L754.5,467.1 L761,467.3 L767.6,467.6 L767.6,510.8 L761,510.5 L754.5,510.1 L747.9,509.8 L741.3,509.5 L734.8,509.3 L728.2,509 L721.7,508.7 L715.1,508.5 L708.5,508.2 L702,508 L695.4,507.8 L688.8,507.5 L682.3,507.3 L675.7,507 L669.2,506.8 L662.6,506.5 L656,506.2 L649.5,505.9 L642.9,505.6 L636.3,505.3 L629.8,505 L623.2,504.7 L616.7,504.3 L610.1,503.9 L603.5,503.5 L597,503.1 L590.4,502.6 L583.8,502.1 L577.3,501.6 L570.7,501.1 L564.1,500.5 L557.6,499.9 L551,499.3 L544.5,498.6 L537.9,497.8 L531.3,497.1 L524.8,496.3 L518.2,495.4 L511.6,494.5 L505.1,493.6 L498.5,492.6 L492,491.5 L485.4,490.4 L478.8,489.2 L472.3,488 L465.7,486.7 L459.1,485.4 L452.6,484 L446,482.6 L439.5,481 L432.9,479.4 L426.3,477.8 L419.8,476.1 L413.2,474.3 L406.6,472.4 L400.1,470.5 L393.5,468.5 L387,466.5 L380.4,464.4 L373.8,462.2 L367.3,460 L360.7,457.8 L354.1,455.4 L347.6,453 L341,450.6 L334.4,448.1 L327.9,445.5 L321.3,442.9 L314.8,440.2 L308.2,437.5 L301.6,434.8 L295.1,431.9 L288.5,429 L281.9,426.1 L275.4,423.1 L268.8,420.1 L262.3,417 L255.7,413.9 L249.1,410.8 L242.6,407.6 L236,404.4 L229.4,401.2 L222.9,398 L216.3,394.8 L209.8,391.5 L203.2,388.3 L196.6,385.1 L190.1,381.8 L183.5,378.6Z" fill="#a57fb8"/></g></g>
<g clip-path="url(#a_purple)"><g clip-path="url(#a_black)"><path d="M183.5,337.4 L190.1,341.4 L196.6,345.4 L203.2,349.3 L209.8,353.2 L216.3,357 L222.9,360.7 L229.4,364.4 L236,368 L242.6,371.5 L249.1,374.9 L255.7,378.3 L262.3,381.6 L268.8,384.7 L275.4,387.8 L281.9,390.8 L288.5,393.8 L295.1,396.6 L301.6,399.3 L308.2,401.9 L314.8,404.5 L321.3,407 L327.9,409.4 L334.4,411.7 L341,413.9 L347.6,416.1 L354.1,418.2 L360.7,420.2 L367.3,422.1 L373.8,424 L380.4,425.8 L387,427.6 L393.5,429.3 L400.1,430.9 L406.6,432.5 L413.2,434 L419.8,435.4 L426.3,436.8 L432.9,438.2 L439.5,439.5 L446,440.8 L452.6,442 L459.1,443.2 L465.7,444.3 L472.3,445.4 L478.8,446.4 L485.4,447.4 L492,448.4 L498.5,449.3 L505.1,450.2 L511.6,451.1 L518.2,451.9 L524.8,452.7 L531.3,453.5 L537.9,454.2 L544.5,454.9 L551,455.6 L557.6,456.2 L564.1,456.8 L570.7,457.4 L577.3,458 L583.8,458.5 L590.4,459 L597,459.5 L603.5,460 L610.1,460.4 L616.7,460.8 L623.2,461.2 L629.8,461.6 L636.3,462 L642.9,462.4 L649.5,462.7 L656,463 L662.6,463.4 L669.2,463.7 L675.7,464 L682.3,464.2 L688.8,464.5 L695.4,464.8 L702,465.1 L708.5,465.3 L715.1,465.6 L721.7,465.8 L728.2,466.1 L734.8,466.3 L741.3,466.6 L747.9,466.8 L754.5,467.1 L761,467.3 L767.6,467.6 L767.6,510.8 L761,510.5 L754.5,510.1 L747.9,509.8 L741.3,509.5 L734.8,509.3 L728.2,509 L721.7,508.7 L715.1,508.5 L708.5,508.2 L702,508 L695.4,507.8 L688.8,507.5 L682.3,507.3 L675.7,507 L669.2,506.8 L662.6,506.5 L656,506.2 L649.5,505.9 L642.9,505.6 L636.3,505.3 L629.8,505 L623.2,504.7 L616.7,504.3 L610.1,503.9 L603.5,503.5 L597,503.1 L590.4,502.6 L583.8,502.1 L577.3,501.6 L570.7,501.1 L564.1,500.5 L557.6,499.9 L551,499.3 L544.5,498.6 L537.9,497.8 L531.3,497.1 L524.8,496.3 L518.2,495.4 L511.6,494.5 L505.1,493.6 L498.5,492.6 L492,491.5 L485.4,490.4 L478.8,489.2 L472.3,488 L465.7,486.7 L459.1,485.4 L452.6,484 L446,482.6 L439.5,481 L432.9,479.4 L426.3,477.8 L419.8,476.1 L413.2,474.3 L406.6,472.4 L400.1,470.5 L393.5,468.5 L387,466.5 L380.4,464.4 L373.8,462.2 L367.3,460 L360.7,457.8 L354.1,455.4 L347.6,453 L341,450.6 L334.4,448.1 L327.9,445.5 L321.3,442.9 L314.8,440.2 L308.2,437.5 L301.6,434.8 L295.1,431.9 L288.5,429 L281.9,426.1 L275.4,423.1 L268.8,420.1 L262.3,417 L255.7,413.9 L249.1,410.8 L242.6,407.6 L236,404.4 L229.4,401.2 L222.9,398 L216.3,394.8 L209.8,391.5 L203.2,388.3 L196.6,385.1 L190.1,381.8 L183.5,378.6Z" fill="#a57fb8"/></g></g>
<g clip-path="url(#a_purple)"><g clip-path="url(#a_red)"><path d="M183.5,337.4 L190.1,341.4 L196.6,345.4 L203.2,349.3 L209.8,353.2 L216.3,357 L222.9,360.7 L229.4,364.4 L236,368 L242.6,371.5 L249.1,374.9 L255.7,378.3 L262.3,381.6 L268.8,384.7 L275.4,387.8 L281.9,390.8 L288.5,393.8 L295.1,396.6 L301.6,399.3 L308.2,401.9 L314.8,404.5 L321.3,407 L327.9,409.4 L334.4,411.7 L341,413.9 L347.6,416.1 L354.1,418.2 L360.7,420.2 L367.3,422.1 L373.8,424 L380.4,425.8 L387,427.6 L393.5,429.3 L400.1,430.9 L406.6,432.5 L413.2,434 L419.8,435.4 L426.3,436.8 L432.9,438.2 L439.5,439.5 L446,440.8 L452.6,442 L459.1,443.2 L465.7,444.3 L472.3,445.4 L478.8,446.4 L485.4,447.4 L492,448.4 L498.5,449.3 L505.1,450.2 L511.6,451.1 L518.2,451.9 L524.8,452.7 L531.3,453.5 L537.9,454.2 L544.5,454.9 L551,455.6 L557.6,456.2 L564.1,456.8 L570.7,457.4 L577.3,458 L583.8,458.5 L590.4,459 L597,459.5 L603.5,460 L610.1,460.4 L616.7,460.8 L623.2,461.2 L629.8,461.6 L636.3,462 L642.9,462.4 L649.5,462.7 L656,463 L662.6,463.4 L669.2,463.7 L675.7,464 L682.3,464.2 L688.8,464.5 L695.4,464.8 L702,465.1 L708.5,465.3 L715.1,465.6 L721.7,465.8 L728.2,466.1 L734.8,466.3 L741.3,466.6 L747.9,466.8 L754.5,467.1 L761,467.3 L767.6,467.6 L767.6,510.8 L761,510.5 L754.5,510.1 L747.9,509.8 L741.3,509.5 L734.8,509.3 L728.2,509 L721.7,508.7 L715.1,508.5 L708.5,508.2 L702,508 L695.4,507.8 L688.8,507.5 L682.3,507.3 L675.7,507 L669.2,506.8 L662.6,506.5 L656,506.2 L649.5,505.9 L642.9,505.6 L636.3,505.3 L629.8,505 L623.2,504.7 L616.7,504.3 L610.1,503.9 L603.5,503.5 L597,503.1 L590.4,502.6 L583.8,502.1 L577.3,501.6 L570.7,501.1 L564.1,500.5 L557.6,499.9 L551,499.3 L544.5,498.6 L537.9,497.8 L531.3,497.1 L524.8,496.3 L518.2,495.4 L511.6,494.5 L505.1,493.6 L498.5,492.6 L492,491.5 L485.4,490.4 L478.8,489.2 L472.3,488 L465.7,486.7 L459.1,485.4 L452.6,484 L446,482.6 L439.5,481 L432.9,479.4 L426.3,477.8 L419.8,476.1 L413.2,474.3 L406.6,472.4 L400.1,470.5 L393.5,468.5 L387,466.5 L380.4,464.4 L373.8,462.2 L367.3,460 L360.7,457.8 L354.1,455.4 L347.6,453 L341,450.6 L334.4,448.1 L327.9,445.5 L321.3,442.9 L314.8,440.2 L308.2,437.5 L301.6,434.8 L295.1,431.9 L288.5,429 L281.9,426.1 L275.4,423.1 L268.8,420.1 L262.3,417 L255.7,413.9 L249.1,410.8 L242.6,407.6 L236,404.4 L229.4,401.2 L222.9,398 L216.3,394.8 L209.8,391.5 L203.2,388.3 L196.6,385.1 L190.1,381.8 L183.5,378.6Z" fill="#a57fb8"/></g></g>
<g clip-path="url(#a_purple)"><g clip-path="url(#a_red)"><g clip-path="url(#a_black)"><path d="M183.5,337.4 L190.1,341.4 L196.6,345.4 L203.2,349.3 L209.8,353.2 L216.3,357 L222.9,360.7 L229.4,364.4 L236,368 L242.6,371.5 L249.1,374.9 L255.7,378.3 L262.3,381.6 L268.8,384.7 L275.4,387.8 L281.9,390.8 L288.5,393.8 L295.1,396.6 L301.6,399.3 L308.2,401.9 L314.8,404.5 L321.3,407 L327.9,409.4 L334.4,411.7 L341,413.9 L347.6,416.1 L354.1,418.2 L360.7,420.2 L367.3,422.1 L373.8,424 L380.4,425.8 L387,427.6 L393.5,429.3 L400.1,430.9 L406.6,432.5 L413.2,434 L419.8,435.4 L426.3,436.8 L432.9,438.2 L439.5,439.5 L446,440.8 L452.6,442 L459.1,443.2 L465.7,444.3 L472.3,445.4 L478.8,446.4 L485.4,447.4 L492,448.4 L498.5,449.3 L505.1,450.2 L511.6,451.1 L518.2,451.9 L524.8,452.7 L531.3,453.5 L537.9,454.2 L544.5,454.9 L551,455.6 L557.6,456.2 L564.1,456.8 L570.7,457.4 L577.3,458 L583.8,458.5 L590.4,459 L597,459.5 L603.5,460 L610.1,460.4 L616.7,460.8 L623.2,461.2 L629.8,461.6 L636.3,462 L642.9,462.4 L649.5,462.7 L656,463 L662.6,463.4 L669.2,463.7 L675.7,464 L682.3,464.2 L688.8,464.5 L695.4,464.8 L702,465.1 L708.5,465.3 L715.1,465.6 L721.7,465.8 L728.2,466.1 L734.8,466.3 L741.3,466.6 L747.9,466.8 L754.5,467.1 L761,467.3 L767.6,467.6 L767.6,510.8 L761,510.5 L754.5,510.1 L747.9,509.8 L741.3,509.5 L734.8,509.3 L728.2,509 L721.7,508.7 L715.1,508.5 L708.5,508.2 L702,508 L695.4,507.8 L688.8,507.5 L682.3,507.3 L675.7,507 L669.2,506.8 L662.6,506.5 L656,506.2 L649.5,505.9 L642.9,505.6 L636.3,505.3 L629.8,505 L623.2,504.7 L616.7,504.3 L610.1,503.9 L603.5,503.5 L597,503.1 L590.4,502.6 L583.8,502.1 L577.3,501.6 L570.7,501.1 L564.1,500.5 L557.6,499.9 L551,499.3 L544.5,498.6 L537.9,497.8 L531.3,497.1 L524.8,496.3 L518.2,495.4 L511.6,494.5 L505.1,493.6 L498.5,492.6 L492,491.5 L485.4,490.4 L478.8,489.2 L472.3,488 L465.7,486.7 L459.1,485.4 L452.6,484 L446,482.6 L439.5,481 L432.9,479.4 L426.3,477.8 L419.8,476.1 L413.2,474.3 L406.6,472.4 L400.1,470.5 L393.5,468.5 L387,466.5 L380.4,464.4 L373.8,462.2 L367.3,460 L360.7,457.8 L354.1,455.4 L347.6,453 L341,450.6 L334.4,448.1 L327.9,445.5 L321.3,442.9 L314.8,440.2 L308.2,437.5 L301.6,434.8 L295.1,431.9 L288.5,429 L281.9,426.1 L275.4,423.1 L268.8,420.1 L262.3,417 L255.7,413.9 L249.1,410.8 L242.6,407.6 L236,404.4 L229.4,401.2 L222.9,398 L216.3,394.8 L209.8,391.5 L203.2,388.3 L196.6,385.1 L190.1,381.8 L183.5,378.6Z" fill="#9870ae"/></g></g></g>
<path d="M183.5,349.9 L190.1,341 L196.6,332.6 L203.2,324.8 L209.8,317.6 L216.3,310.7 L222.9,304.3 L229.4,298.3 L236,292.7 L242.6,287.4 L249.1,282.4 L255.7,277.7 L262.3,273.2 L268.8,268.9 L275.4,264.8 L281.9,260.8 L288.5,256.9 L295.1,253.1 L301.6,249.4 L308.2,245.9 L314.8,242.4 L321.3,239 L327.9,235.7 L334.4,232.4 L341,229.3 L347.6,226.3 L354.1,223.3 L360.7,220.4 L367.3,217.6 L373.8,214.9 L380.4,212.3 L387,209.8 L393.5,207.3 L400.1,204.9 L406.6,202.6 L413.2,200.3 L419.8,198.2 L426.3,196.1 L432.9,194 L439.5,192 L446,190.1 L452.6,188.3 L459.1,186.5 L465.7,184.8 L472.3,183.1 L478.8,181.5 L485.4,180 L492,178.5 L498.5,177.1 L505.1,175.7 L511.6,174.3 L518.2,173.1 L524.8,171.8 L531.3,170.6 L537.9,169.5 L544.5,168.4 L551,167.3 L557.6,166.3 L564.1,165.3 L570.7,164.3 L577.3,163.4 L583.8,162.5 L590.4,161.7 L597,160.9 L603.5,160.1 L610.1,159.3 L616.7,158.6 L623.2,157.9 L629.8,157.2 L636.3,156.5 L642.9,155.9 L649.5,155.2 L656,154.6 L662.6,154 L669.2,153.4 L675.7,152.9 L682.3,152.3 L688.8,151.8 L695.4,151.2 L702,150.7 L708.5,150.2 L715.1,149.6 L721.7,149.1 L728.2,148.6 L734.8,148.1 L741.3,147.6 L747.9,147 L754.5,146.5 L761,146 L767.6,145.4" fill="none" stroke="#000000" stroke-width="5.6" stroke-linejoin="round"/>
<g clip-path="url(#a_red)"><path d="M183.5,349.9 L190.1,341 L196.6,332.6 L203.2,324.8 L209.8,317.6 L216.3,310.7 L222.9,304.3 L229.4,298.3 L236,292.7 L242.6,287.4 L249.1,282.4 L255.7,277.7 L262.3,273.2 L268.8,268.9 L275.4,264.8 L281.9,260.8 L288.5,256.9 L295.1,253.1 L301.6,249.4 L308.2,245.9 L314.8,242.4 L321.3,239 L327.9,235.7 L334.4,232.4 L341,229.3 L347.6,226.3 L354.1,223.3 L360.7,220.4 L367.3,217.6 L373.8,214.9 L380.4,212.3 L387,209.8 L393.5,207.3 L400.1,204.9 L406.6,202.6 L413.2,200.3 L419.8,198.2 L426.3,196.1 L432.9,194 L439.5,192 L446,190.1 L452.6,188.3 L459.1,186.5 L465.7,184.8 L472.3,183.1 L478.8,181.5 L485.4,180 L492,178.5 L498.5,177.1 L505.1,175.7 L511.6,174.3 L518.2,173.1 L524.8,171.8 L531.3,170.6 L537.9,169.5 L544.5,168.4 L551,167.3 L557.6,166.3 L564.1,165.3 L570.7,164.3 L577.3,163.4 L583.8,162.5 L590.4,161.7 L597,160.9 L603.5,160.1 L610.1,159.3 L616.7,158.6 L623.2,157.9 L629.8,157.2 L636.3,156.5 L642.9,155.9 L649.5,155.2 L656,154.6 L662.6,154 L669.2,153.4 L675.7,152.9 L682.3,152.3 L688.8,151.8 L695.4,151.2 L702,150.7 L708.5,150.2 L715.1,149.6 L721.7,149.1 L728.2,148.6 L734.8,148.1 L741.3,147.6 L747.9,147 L754.5,146.5 L761,146 L767.6,145.4" fill="none" stroke="#1c0000" stroke-width="5.6" stroke-linejoin="round"/></g>
<g clip-path="url(#a_purple)"><path d="M183.5,349.9 L190.1,341 L196.6,332.6 L203.2,324.8 L209.8,317.6 L216.3,310.7 L222.9,304.3 L229.4,298.3 L236,292.7 L242.6,287.4 L249.1,282.4 L255.7,277.7 L262.3,273.2 L268.8,268.9 L275.4,264.8 L281.9,260.8 L288.5,256.9 L295.1,253.1 L301.6,249.4 L308.2,245.9 L314.8,242.4 L321.3,239 L327.9,235.7 L334.4,232.4 L341,229.3 L347.6,226.3 L354.1,223.3 L360.7,220.4 L367.3,217.6 L373.8,214.9 L380.4,212.3 L387,209.8 L393.5,207.3 L400.1,204.9 L406.6,202.6 L413.2,200.3 L419.8,198.2 L426.3,196.1 L432.9,194 L439.5,192 L446,190.1 L452.6,188.3 L459.1,186.5 L465.7,184.8 L472.3,183.1 L478.8,181.5 L485.4,180 L492,178.5 L498.5,177.1 L505.1,175.7 L511.6,174.3 L518.2,173.1 L524.8,171.8 L531.3,170.6 L537.9,169.5 L544.5,168.4 L551,167.3 L557.6,166.3 L564.1,165.3 L570.7,164.3 L577.3,163.4 L583.8,162.5 L590.4,161.7 L597,160.9 L603.5,160.1 L610.1,159.3 L616.7,158.6 L623.2,157.9 L629.8,157.2 L636.3,156.5 L642.9,155.9 L649.5,155.2 L656,154.6 L662.6,154 L669.2,153.4 L675.7,152.9 L682.3,152.3 L688.8,151.8 L695.4,151.2 L702,150.7 L708.5,150.2 L715.1,149.6 L721.7,149.1 L728.2,148.6 L734.8,148.1 L741.3,147.6 L747.9,147 L754.5,146.5 L761,146 L767.6,145.4" fill="none" stroke="#150020" stroke-width="5.6" stroke-linejoin="round"/></g>
<g clip-path="url(#a_blue)"><path d="M183.5,349.9 L190.1,341 L196.6,332.6 L203.2,324.8 L209.8,317.6 L216.3,310.7 L222.9,304.3 L229.4,298.3 L236,292.7 L242.6,287.4 L249.1,282.4 L255.7,277.7 L262.3,273.2 L268.8,268.9 L275.4,264.8 L281.9,260.8 L288.5,256.9 L295.1,253.1 L301.6,249.4 L308.2,245.9 L314.8,242.4 L321.3,239 L327.9,235.7 L334.4,232.4 L341,229.3 L347.6,226.3 L354.1,223.3 L360.7,220.4 L367.3,217.6 L373.8,214.9 L380.4,212.3 L387,209.8 L393.5,207.3 L400.1,204.9 L406.6,202.6 L413.2,200.3 L419.8,198.2 L426.3,196.1 L432.9,194 L439.5,192 L446,190.1 L452.6,188.3 L459.1,186.5 L465.7,184.8 L472.3,183.1 L478.8,181.5 L485.4,180 L492,178.5 L498.5,177.1 L505.1,175.7 L511.6,174.3 L518.2,173.1 L524.8,171.8 L531.3,170.6 L537.9,169.5 L544.5,168.4 L551,167.3 L557.6,166.3 L564.1,165.3 L570.7,164.3 L577.3,163.4 L583.8,162.5 L590.4,161.7 L597,160.9 L603.5,160.1 L610.1,159.3 L616.7,158.6 L623.2,157.9 L629.8,157.2 L636.3,156.5 L642.9,155.9 L649.5,155.2 L656,154.6 L662.6,154 L669.2,153.4 L675.7,152.9 L682.3,152.3 L688.8,151.8 L695.4,151.2 L702,150.7 L708.5,150.2 L715.1,149.6 L721.7,149.1 L728.2,148.6 L734.8,148.1 L741.3,147.6 L747.9,147 L754.5,146.5 L761,146 L767.6,145.4" fill="none" stroke="#00001c" stroke-width="5.6" stroke-linejoin="round"/></g>
<g fill="#000000"><circle cx="183.5" cy="352" r="4.9"/><circle cx="183.5" cy="358" r="4.9"/><circle cx="183.5" cy="364" r="4.9"/><circle cx="313.3" cy="231" r="4.9"/><circle cx="313.3" cy="234" r="4.9"/><circle cx="313.3" cy="237" r="4.9"/><circle cx="443.1" cy="196.5" r="4.9"/><circle cx="443.1" cy="199.5" r="4.9"/><circle cx="443.1" cy="202.5" r="4.9"/><circle cx="702.7" cy="100" r="4.9"/><circle cx="702.7" cy="111.2" r="4.9"/><circle cx="702.7" cy="118.7" r="4.9"/></g>
<path d="M183.5,357.4 L190.1,360.6 L196.6,363.3 L203.2,365.5 L209.8,367.2 L216.3,368.6 L222.9,369.5 L229.4,370.1 L236,370.3 L242.6,370.1 L249.1,369.7 L255.7,368.9 L262.3,367.9 L268.8,366.7 L275.4,365.2 L281.9,363.5 L288.5,361.6 L295.1,359.5 L301.6,357.2 L308.2,354.8 L314.8,352.3 L321.3,349.7 L327.9,347 L334.4,344.2 L341,341.4 L347.6,338.6 L354.1,335.7 L360.7,332.8 L367.3,330 L373.8,327.2 L380.4,324.4 L387,321.8 L393.5,319.2 L400.1,316.6 L406.6,314.2 L413.2,311.7 L419.8,309.4 L426.3,307.1 L432.9,304.9 L439.5,302.7 L446,300.6 L452.6,298.5 L459.1,296.5 L465.7,294.6 L472.3,292.6 L478.8,290.8 L485.4,288.9 L492,287.2 L498.5,285.4 L505.1,283.7 L511.6,282 L518.2,280.4 L524.8,278.8 L531.3,277.2 L537.9,275.7 L544.5,274.2 L551,272.7 L557.6,271.2 L564.1,269.8 L570.7,268.3 L577.3,266.9 L583.8,265.5 L590.4,264.2 L597,262.8 L603.5,261.5 L610.1,260.2 L616.7,258.9 L623.2,257.7 L629.8,256.5 L636.3,255.3 L642.9,254.1 L649.5,253 L656,251.9 L662.6,250.9 L669.2,249.8 L675.7,248.9 L682.3,247.9 L688.8,247 L695.4,246.2 L702,245.4 L708.5,244.6 L715.1,243.9 L721.7,243.2 L728.2,242.6 L734.8,242 L741.3,241.5 L747.9,241.1 L754.5,240.6 L761,240.3 L767.6,240" fill="none" stroke="#ee2d2e" stroke-width="5.6" stroke-linejoin="round"/>
<g clip-path="url(#a_purple)"><path d="M183.5,357.4 L190.1,360.6 L196.6,363.3 L203.2,365.5 L209.8,367.2 L216.3,368.6 L222.9,369.5 L229.4,370.1 L236,370.3 L242.6,370.1 L249.1,369.7 L255.7,368.9 L262.3,367.9 L268.8,366.7 L275.4,365.2 L281.9,363.5 L288.5,361.6 L295.1,359.5 L301.6,357.2 L308.2,354.8 L314.8,352.3 L321.3,349.7 L327.9,347 L334.4,344.2 L341,341.4 L347.6,338.6 L354.1,335.7 L360.7,332.8 L367.3,330 L373.8,327.2 L380.4,324.4 L387,321.8 L393.5,319.2 L400.1,316.6 L406.6,314.2 L413.2,311.7 L419.8,309.4 L426.3,307.1 L432.9,304.9 L439.5,302.7 L446,300.6 L452.6,298.5 L459.1,296.5 L465.7,294.6 L472.3,292.6 L478.8,290.8 L485.4,288.9 L492,287.2 L498.5,285.4 L505.1,283.7 L511.6,282 L518.2,280.4 L524.8,278.8 L531.3,277.2 L537.9,275.7 L544.5,274.2 L551,272.7 L557.6,271.2 L564.1,269.8 L570.7,268.3 L577.3,266.9 L583.8,265.5 L590.4,264.2 L597,262.8 L603.5,261.5 L610.1,260.2 L616.7,258.9 L623.2,257.7 L629.8,256.5 L636.3,255.3 L642.9,254.1 L649.5,253 L656,251.9 L662.6,250.9 L669.2,249.8 L675.7,248.9 L682.3,247.9 L688.8,247 L695.4,246.2 L702,245.4 L708.5,244.6 L715.1,243.9 L721.7,243.2 L728.2,242.6 L734.8,242 L741.3,241.5 L747.9,241.1 L754.5,240.6 L761,240.3 L767.6,240" fill="none" stroke="#ee2238" stroke-width="5.6" stroke-linejoin="round"/></g>
<g clip-path="url(#a_blue)"><path d="M183.5,357.4 L190.1,360.6 L196.6,363.3 L203.2,365.5 L209.8,367.2 L216.3,368.6 L222.9,369.5 L229.4,370.1 L236,370.3 L242.6,370.1 L249.1,369.7 L255.7,368.9 L262.3,367.9 L268.8,366.7 L275.4,365.2 L281.9,363.5 L288.5,361.6 L295.1,359.5 L301.6,357.2 L308.2,354.8 L314.8,352.3 L321.3,349.7 L327.9,347 L334.4,344.2 L341,341.4 L347.6,338.6 L354.1,335.7 L360.7,332.8 L367.3,330 L373.8,327.2 L380.4,324.4 L387,321.8 L393.5,319.2 L400.1,316.6 L406.6,314.2 L413.2,311.7 L419.8,309.4 L426.3,307.1 L432.9,304.9 L439.5,302.7 L446,300.6 L452.6,298.5 L459.1,296.5 L465.7,294.6 L472.3,292.6 L478.8,290.8 L485.4,288.9 L492,287.2 L498.5,285.4 L505.1,283.7 L511.6,282 L518.2,280.4 L524.8,278.8 L531.3,277.2 L537.9,275.7 L544.5,274.2 L551,272.7 L557.6,271.2 L564.1,269.8 L570.7,268.3 L577.3,266.9 L583.8,265.5 L590.4,264.2 L597,262.8 L603.5,261.5 L610.1,260.2 L616.7,258.9 L623.2,257.7 L629.8,256.5 L636.3,255.3 L642.9,254.1 L649.5,253 L656,251.9 L662.6,250.9 L669.2,249.8 L675.7,248.9 L682.3,247.9 L688.8,247 L695.4,246.2 L702,245.4 L708.5,244.6 L715.1,243.9 L721.7,243.2 L728.2,242.6 L734.8,242 L741.3,241.5 L747.9,241.1 L754.5,240.6 L761,240.3 L767.6,240" fill="none" stroke="#cc1f4a" stroke-width="5.6" stroke-linejoin="round"/></g>
<g fill="#ee2d2e"><circle cx="183.5" cy="339" r="4.9"/><circle cx="183.5" cy="345" r="4.9"/><circle cx="183.5" cy="352" r="4.9"/><circle cx="183.5" cy="360" r="4.9"/><circle cx="183.5" cy="368" r="4.9"/><circle cx="313.3" cy="332.5" r="4.9"/><circle cx="313.3" cy="340" r="4.9"/><circle cx="313.3" cy="347.5" r="4.9"/><circle cx="443.1" cy="313.7" r="4.9"/><circle cx="443.1" cy="325" r="4.9"/><circle cx="443.1" cy="332.5" r="4.9"/><circle cx="702.7" cy="215.7" r="4.9"/><circle cx="702.7" cy="237.5" r="4.9"/><circle cx="702.7" cy="241" r="4.9"/></g>
<path d="M183.5,351.8 L190.1,343.9 L196.6,336.7 L203.2,330.1 L209.8,324 L216.3,318.4 L222.9,313.3 L229.4,308.7 L236,304.5 L242.6,300.6 L249.1,297.1 L255.7,293.9 L262.3,291 L268.8,288.3 L275.4,285.8 L281.9,283.4 L288.5,281.2 L295.1,279.1 L301.6,277.1 L308.2,275.2 L314.8,273.4 L321.3,271.7 L327.9,270.2 L334.4,268.7 L341,267.3 L347.6,266.1 L354.1,264.9 L360.7,263.8 L367.3,262.7 L373.8,261.8 L380.4,260.9 L387,260.1 L393.5,259.4 L400.1,258.7 L406.6,258.1 L413.2,257.6 L419.8,257.1 L426.3,256.6 L432.9,256.2 L439.5,255.9 L446,255.5 L452.6,255.2 L459.1,255 L465.7,254.8 L472.3,254.6 L478.8,254.4 L485.4,254.2 L492,254.1 L498.5,254 L505.1,253.8 L511.6,253.7 L518.2,253.6 L524.8,253.5 L531.3,253.4 L537.9,253.3 L544.5,253.2 L551,253.1 L557.6,253 L564.1,252.9 L570.7,252.8 L577.3,252.8 L583.8,252.7 L590.4,252.6 L597,252.6 L603.5,252.5 L610.1,252.5 L616.7,252.5 L623.2,252.5 L629.8,252.4 L636.3,252.4 L642.9,252.4 L649.5,252.4 L656,252.5 L662.6,252.5 L669.2,252.5 L675.7,252.6 L682.3,252.6 L688.8,252.7 L695.4,252.8 L702,252.9 L708.5,253 L715.1,253.1 L721.7,253.2 L728.2,253.4 L734.8,253.5 L741.3,253.7 L747.9,253.9 L754.5,254.1 L761,254.3 L767.6,254.5" fill="none" stroke="#8b479c" stroke-width="5.6" stroke-linejoin="round"/>
<g clip-path="url(#a_blue)"><path d="M183.5,351.8 L190.1,343.9 L196.6,336.7 L203.2,330.1 L209.8,324 L216.3,318.4 L222.9,313.3 L229.4,308.7 L236,304.5 L242.6,300.6 L249.1,297.1 L255.7,293.9 L262.3,291 L268.8,288.3 L275.4,285.8 L281.9,283.4 L288.5,281.2 L295.1,279.1 L301.6,277.1 L308.2,275.2 L314.8,273.4 L321.3,271.7 L327.9,270.2 L334.4,268.7 L341,267.3 L347.6,266.1 L354.1,264.9 L360.7,263.8 L367.3,262.7 L373.8,261.8 L380.4,260.9 L387,260.1 L393.5,259.4 L400.1,258.7 L406.6,258.1 L413.2,257.6 L419.8,257.1 L426.3,256.6 L432.9,256.2 L439.5,255.9 L446,255.5 L452.6,255.2 L459.1,255 L465.7,254.8 L472.3,254.6 L478.8,254.4 L485.4,254.2 L492,254.1 L498.5,254 L505.1,253.8 L511.6,253.7 L518.2,253.6 L524.8,253.5 L531.3,253.4 L537.9,253.3 L544.5,253.2 L551,253.1 L557.6,253 L564.1,252.9 L570.7,252.8 L577.3,252.8 L583.8,252.7 L590.4,252.6 L597,252.6 L603.5,252.5 L610.1,252.5 L616.7,252.5 L623.2,252.5 L629.8,252.4 L636.3,252.4 L642.9,252.4 L649.5,252.4 L656,252.5 L662.6,252.5 L669.2,252.5 L675.7,252.6 L682.3,252.6 L688.8,252.7 L695.4,252.8 L702,252.9 L708.5,253 L715.1,253.1 L721.7,253.2 L728.2,253.4 L734.8,253.5 L741.3,253.7 L747.9,253.9 L754.5,254.1 L761,254.3 L767.6,254.5" fill="none" stroke="#7040a0" stroke-width="5.6" stroke-linejoin="round"/></g>
<g fill="#8b479c"><circle cx="183.5" cy="346" r="4.9"/><circle cx="183.5" cy="354" r="4.9"/><circle cx="183.5" cy="362" r="4.9"/><circle cx="183.5" cy="368" r="4.9"/><circle cx="313.3" cy="261" r="4.9"/><circle cx="313.3" cy="264" r="4.9"/><circle cx="313.3" cy="268" r="4.9"/><circle cx="443.1" cy="266" r="4.9"/><circle cx="443.1" cy="270" r="4.9"/><circle cx="443.1" cy="273.7" r="4.9"/><circle cx="702.7" cy="270.5" r="4.9"/><circle cx="702.7" cy="274" r="4.9"/><circle cx="702.7" cy="278" r="4.9"/></g>
<path d="M183.5,357.2 L190.1,361 L196.6,364.8 L203.2,368.4 L209.8,372.1 L216.3,375.6 L222.9,379.2 L229.4,382.6 L236,386 L242.6,389.3 L249.1,392.6 L255.7,395.8 L262.3,398.9 L268.8,402 L275.4,405 L281.9,408 L288.5,410.9 L295.1,413.7 L301.6,416.4 L308.2,419.1 L314.8,421.7 L321.3,424.3 L327.9,426.8 L334.4,429.2 L341,431.6 L347.6,433.9 L354.1,436.1 L360.7,438.3 L367.3,440.4 L373.8,442.5 L380.4,444.5 L387,446.4 L393.5,448.3 L400.1,450.1 L406.6,451.9 L413.2,453.6 L419.8,455.2 L426.3,456.8 L432.9,458.3 L439.5,459.8 L446,461.2 L452.6,462.6 L459.1,463.9 L465.7,465.1 L472.3,466.3 L478.8,467.4 L485.4,468.5 L492,469.6 L498.5,470.6 L505.1,471.6 L511.6,472.5 L518.2,473.3 L524.8,474.2 L531.3,475 L537.9,475.7 L544.5,476.4 L551,477.1 L557.6,477.8 L564.1,478.4 L570.7,479 L577.3,479.5 L583.8,480.1 L590.4,480.6 L597,481 L603.5,481.5 L610.1,481.9 L616.7,482.3 L623.2,482.7 L629.8,483.1 L636.3,483.4 L642.9,483.8 L649.5,484.1 L656,484.4 L662.6,484.7 L669.2,485 L675.7,485.3 L682.3,485.6 L688.8,485.8 L695.4,486.1 L702,486.3 L708.5,486.6 L715.1,486.9 L721.7,487.1 L728.2,487.4 L734.8,487.6 L741.3,487.9 L747.9,488.2 L754.5,488.5 L761,488.8 L767.6,489.1" fill="none" stroke="#2356a8" stroke-width="5.6" stroke-linejoin="round"/>
<g fill="#2356a8"><circle cx="183.5" cy="343" r="4.9"/><circle cx="183.5" cy="348" r="4.9"/><circle cx="183.5" cy="353" r="4.9"/><circle cx="183.5" cy="358" r="4.9"/><circle cx="183.5" cy="363" r="4.9"/><circle cx="183.5" cy="368" r="4.9"/><circle cx="183.5" cy="375.5" r="4.9"/><circle cx="313.3" cy="407.5" r="4.9"/><circle cx="313.3" cy="416.2" r="4.9"/><circle cx="313.3" cy="420" r="4.9"/><circle cx="443.1" cy="409.2" r="4.9"/><circle cx="443.1" cy="472.5" r="4.9"/><circle cx="443.1" cy="480" r="4.9"/><circle cx="443.1" cy="527.5" r="4.9"/><circle cx="702.7" cy="492.5" r="4.9"/><circle cx="702.7" cy="500" r="4.9"/></g>
</g>
<g id="panelB">
<defs><clipPath id="b_black"><path d="M1017.5,130 L1591.8,130 L1591.8,175 L1017.5,175Z"/></clipPath><clipPath id="b_red"><path d="M1017.5,130 L1046.2,188 L1074.9,201.2 L1103.6,209.5 L1132.4,213.7 L1161.1,217.5 L1189.8,219.8 L1218.5,221.6 L1247.2,223.4 L1275.9,225.1 L1304.7,226.5 L1333.4,227.5 L1362.1,228.4 L1390.8,229 L1419.5,229.5 L1448.2,230 L1476.9,230.5 L1505.7,231 L1534.4,231.4 L1563.1,231.7 L1591.8,232 L1591.8,278 L1563.1,277.6 L1534.4,277.2 L1505.7,276.8 L1476.9,276.5 L1448.2,276.2 L1419.5,275.8 L1390.8,275.3 L1362.1,274.6 L1333.4,273.7 L1304.7,272.5 L1275.9,271.1 L1247.2,269.6 L1218.5,267.8 L1189.8,266 L1161.1,263.7 L1132.4,260.5 L1103.6,257 L1074.9,248.7 L1046.2,234.5 L1017.5,175Z"/></clipPath><clipPath id="b_purple"><path d="M1017.5,130 L1046.2,132.5 L1074.9,140.7 L1103.6,149.6 L1132.4,159.5 L1161.1,168.7 L1189.8,176.7 L1218.5,184 L1247.2,191 L1275.9,197.6 L1304.7,203.7 L1333.4,209.1 L1362.1,214 L1390.8,218.2 L1419.5,221.7 L1448.2,225 L1476.9,228.2 L1505.7,231.1 L1534.4,233.8 L1563.1,236.4 L1591.8,238.7 L1591.8,283.7 L1563.1,281.5 L1534.4,279.2 L1505.7,276.8 L1476.9,274.2 L1448.2,271.2 L1419.5,267.6 L1390.8,263.4 L1362.1,258.9 L1333.4,253.9 L1304.7,248.7 L1275.9,243.6 L1247.2,238.2 L1218.5,231.2 L1189.8,221.9 L1161.1,212.5 L1132.4,204 L1103.6,195.9 L1074.9,188.3 L1046.2,181.2 L1017.5,175Z"/></clipPath><clipPath id="b_blue"><path d="M1017.5,130 L1046.2,190 L1074.9,212.5 L1103.6,237 L1132.4,260 L1161.1,282 L1189.8,303.3 L1218.5,323.7 L1247.2,342.7 L1275.9,360.4 L1304.7,376.7 L1333.4,391.7 L1362.1,405.6 L1390.8,418.3 L1419.5,430 L1448.2,440.9 L1476.9,451.3 L1505.7,461 L1534.4,469.3 L1563.1,476.7 L1591.8,483 L1591.8,529 L1563.1,521.7 L1534.4,513.6 L1505.7,504.7 L1476.9,494.8 L1448.2,484.1 L1419.5,472.5 L1390.8,460 L1362.1,446.8 L1333.4,433 L1304.7,418 L1275.9,401.6 L1247.2,384 L1218.5,365.3 L1189.8,345.1 L1161.1,324.5 L1132.4,303.7 L1103.6,282.5 L1074.9,260 L1046.2,235.7 L1017.5,175Z"/></clipPath></defs>
<path d="M1017.5,130 L1591.8,130 L1591.8,175 L1017.5,175Z" fill="#c5c6c5"/>
<path d="M1017.5,130 L1046.2,188 L1074.9,201.2 L1103.6,209.5 L1132.4,213.7 L1161.1,217.5 L1189.8,219.8 L1218.5,221.6 L1247.2,223.4 L1275.9,225.1 L1304.7,226.5 L1333.4,227.5 L1362.1,228.4 L1390.8,229 L1419.5,229.5 L1448.2,230 L1476.9,230.5 L1505.7,231 L1534.4,231.4 L1563.1,231.7 L1591.8,232 L1591.8,278 L1563.1,277.6 L1534.4,277.2 L1505.7,276.8 L1476.9,276.5 L1448.2,276.2 L1419.5,275.8 L1390.8,275.3 L1362.1,274.6 L1333.4,273.7 L1304.7,272.5 L1275.9,271.1 L1247.2,269.6 L1218.5,267.8 L1189.8,266 L1161.1,263.7 L1132.4,260.5 L1103.6,257 L1074.9,248.7 L1046.2,234.5 L1017.5,175Z" fill="#f9c5c4"/>
<path d="M1017.5,130 L1046.2,132.5 L1074.9,140.7 L1103.6,149.6 L1132.4,159.5 L1161.1,168.7 L1189.8,176.7 L1218.5,184 L1247.2,191 L1275.9,197.6 L1304.7,203.7 L1333.4,209.1 L1362.1,214 L1390.8,218.2 L1419.5,221.7 L1448.2,225 L1476.9,228.2 L1505.7,231.1 L1534.4,233.8 L1563.1,236.4 L1591.8,238.7 L1591.8,283.7 L1563.1,281.5 L1534.4,279.2 L1505.7,276.8 L1476.9,274.2 L1448.2,271.2 L1419.5,267.6 L1390.8,263.4 L1362.1,258.9 L1333.4,253.9 L1304.7,248.7 L1275.9,243.6 L1247.2,238.2 L1218.5,231.2 L1189.8,221.9 L1161.1,212.5 L1132.4,204 L1103.6,195.9 L1074.9,188.3 L1046.2,181.2 L1017.5,175Z" fill="#e4c3dd"/>
<path d="M1017.5,130 L1046.2,190 L1074.9,212.5 L1103.6,237 L1132.4,260 L1161.1,282 L1189.8,303.3 L1218.5,323.7 L1247.2,342.7 L1275.9,360.4 L1304.7,376.7 L1333.4,391.7 L1362.1,405.6 L1390.8,418.3 L1419.5,430 L1448.2,440.9 L1476.9,451.3 L1505.7,461 L1534.4,469.3 L1563.1,476.7 L1591.8,483 L1591.8,529 L1563.1,521.7 L1534.4,513.6 L1505.7,504.7 L1476.9,494.8 L1448.2,484.1 L1419.5,472.5 L1390.8,460 L1362.1,446.8 L1333.4,433 L1304.7,418 L1275.9,401.6 L1247.2,384 L1218.5,365.3 L1189.8,345.1 L1161.1,324.5 L1132.4,303.7 L1103.6,282.5 L1074.9,260 L1046.2,235.7 L1017.5,175Z" fill="#c1c1e1"/>
<g clip-path="url(#b_black)"><path d="M1017.5,130 L1046.2,188 L1074.9,201.2 L1103.6,209.5 L1132.4,213.7 L1161.1,217.5 L1189.8,219.8 L1218.5,221.6 L1247.2,223.4 L1275.9,225.1 L1304.7,226.5 L1333.4,227.5 L1362.1,228.4 L1390.8,229 L1419.5,229.5 L1448.2,230 L1476.9,230.5 L1505.7,231 L1534.4,231.4 L1563.1,231.7 L1591.8,232 L1591.8,278 L1563.1,277.6 L1534.4,277.2 L1505.7,276.8 L1476.9,276.5 L1448.2,276.2 L1419.5,275.8 L1390.8,275.3 L1362.1,274.6 L1333.4,273.7 L1304.7,272.5 L1275.9,271.1 L1247.2,269.6 L1218.5,267.8 L1189.8,266 L1161.1,263.7 L1132.4,260.5 L1103.6,257 L1074.9,248.7 L1046.2,234.5 L1017.5,175Z" fill="#c9a3a4"/></g>
<g clip-path="url(#b_black)"><path d="M1017.5,130 L1046.2,132.5 L1074.9,140.7 L1103.6,149.6 L1132.4,159.5 L1161.1,168.7 L1189.8,176.7 L1218.5,184 L1247.2,191 L1275.9,197.6 L1304.7,203.7 L1333.4,209.1 L1362.1,214 L1390.8,218.2 L1419.5,221.7 L1448.2,225 L1476.9,228.2 L1505.7,231.1 L1534.4,233.8 L1563.1,236.4 L1591.8,238.7 L1591.8,283.7 L1563.1,281.5 L1534.4,279.2 L1505.7,276.8 L1476.9,274.2 L1448.2,271.2 L1419.5,267.6 L1390.8,263.4 L1362.1,258.9 L1333.4,253.9 L1304.7,248.7 L1275.9,243.6 L1247.2,238.2 L1218.5,231.2 L1189.8,221.9 L1161.1,212.5 L1132.4,204 L1103.6,195.9 L1074.9,188.3 L1046.2,181.2 L1017.5,175Z" fill="#bf9cc1"/></g>
<g clip-path="url(#b_black)"><path d="M1017.5,130 L1046.2,190 L1074.9,212.5 L1103.6,237 L1132.4,260 L1161.1,282 L1189.8,303.3 L1218.5,323.7 L1247.2,342.7 L1275.9,360.4 L1304.7,376.7 L1333.4,391.7 L1362.1,405.6 L1390.8,418.3 L1419.5,430 L1448.2,440.9 L1476.9,451.3 L1505.7,461 L1534.4,469.3 L1563.1,476.7 L1591.8,483 L1591.8,529 L1563.1,521.7 L1534.4,513.6 L1505.7,504.7 L1476.9,494.8 L1448.2,484.1 L1419.5,472.5 L1390.8,460 L1362.1,446.8 L1333.4,433 L1304.7,418 L1275.9,401.6 L1247.2,384 L1218.5,365.3 L1189.8,345.1 L1161.1,324.5 L1132.4,303.7 L1103.6,282.5 L1074.9,260 L1046.2,235.7 L1017.5,175Z" fill="#9c9cc0"/></g>
<g clip-path="url(#b_red)"><path d="M1017.5,130 L1046.2,132.5 L1074.9,140.7 L1103.6,149.6 L1132.4,159.5 L1161.1,168.7 L1189.8,176.7 L1218.5,184 L1247.2,191 L1275.9,197.6 L1304.7,203.7 L1333.4,209.1 L1362.1,214 L1390.8,218.2 L1419.5,221.7 L1448.2,225 L1476.9,228.2 L1505.7,231.1 L1534.4,233.8 L1563.1,236.4 L1591.8,238.7 L1591.8,283.7 L1563.1,281.5 L1534.4,279.2 L1505.7,276.8 L1476.9,274.2 L1448.2,271.2 L1419.5,267.6 L1390.8,263.4 L1362.1,258.9 L1333.4,253.9 L1304.7,248.7 L1275.9,243.6 L1247.2,238.2 L1218.5,231.2 L1189.8,221.9 L1161.1,212.5 L1132.4,204 L1103.6,195.9 L1074.9,188.3 L1046.2,181.2 L1017.5,175Z" fill="#ee9cc2"/></g>
<g clip-path="url(#b_red)"><path d="M1017.5,130 L1046.2,190 L1074.9,212.5 L1103.6,237 L1132.4,260 L1161.1,282 L1189.8,303.3 L1218.5,323.7 L1247.2,342.7 L1275.9,360.4 L1304.7,376.7 L1333.4,391.7 L1362.1,405.6 L1390.8,418.3 L1419.5,430 L1448.2,440.9 L1476.9,451.3 L1505.7,461 L1534.4,469.3 L1563.1,476.7 L1591.8,483 L1591.8,529 L1563.1,521.7 L1534.4,513.6 L1505.7,504.7 L1476.9,494.8 L1448.2,484.1 L1419.5,472.5 L1390.8,460 L1362.1,446.8 L1333.4,433 L1304.7,418 L1275.9,401.6 L1247.2,384 L1218.5,365.3 L1189.8,345.1 L1161.1,324.5 L1132.4,303.7 L1103.6,282.5 L1074.9,260 L1046.2,235.7 L1017.5,175Z" fill="#bf9acc"/></g>
<g clip-path="url(#b_purple)"><path d="M1017.5,130 L1046.2,190 L1074.9,212.5 L1103.6,237 L1132.4,260 L1161.1,282 L1189.8,303.3 L1218.5,323.7 L1247.2,342.7 L1275.9,360.4 L1304.7,376.7 L1333.4,391.7 L1362.1,405.6 L1390.8,418.3 L1419.5,430 L1448.2,440.9 L1476.9,451.3 L1505.7,461 L1534.4,469.3 L1563.1,476.7 L1591.8,483 L1591.8,529 L1563.1,521.7 L1534.4,513.6 L1505.7,504.7 L1476.9,494.8 L1448.2,484.1 L1419.5,472.5 L1390.8,460 L1362.1,446.8 L1333.4,433 L1304.7,418 L1275.9,401.6 L1247.2,384 L1218.5,365.3 L1189.8,345.1 L1161.1,324.5 L1132.4,303.7 L1103.6,282.5 L1074.9,260 L1046.2,235.7 L1017.5,175Z" fill="#ad96c8"/></g>
<g clip-path="url(#b_red)"><g clip-path="url(#b_black)"><path d="M1017.5,130 L1046.2,132.5 L1074.9,140.7 L1103.6,149.6 L1132.4,159.5 L1161.1,168.7 L1189.8,176.7 L1218.5,184 L1247.2,191 L1275.9,197.6 L1304.7,203.7 L1333.4,209.1 L1362.1,214 L1390.8,218.2 L1419.5,221.7 L1448.2,225 L1476.9,228.2 L1505.7,231.1 L1534.4,233.8 L1563.1,236.4 L1591.8,238.7 L1591.8,283.7 L1563.1,281.5 L1534.4,279.2 L1505.7,276.8 L1476.9,274.2 L1448.2,271.2 L1419.5,267.6 L1390.8,263.4 L1362.1,258.9 L1333.4,253.9 L1304.7,248.7 L1275.9,243.6 L1247.2,238.2 L1218.5,231.2 L1189.8,221.9 L1161.1,212.5 L1132.4,204 L1103.6,195.9 L1074.9,188.3 L1046.2,181.2 L1017.5,175Z" fill="#a57fb8"/></g></g>
<g clip-path="url(#b_red)"><g clip-path="url(#b_black)"><path d="M1017.5,130 L1046.2,190 L1074.9,212.5 L1103.6,237 L1132.4,260 L1161.1,282 L1189.8,303.3 L1218.5,323.7 L1247.2,342.7 L1275.9,360.4 L1304.7,376.7 L1333.4,391.7 L1362.1,405.6 L1390.8,418.3 L1419.5,430 L1448.2,440.9 L1476.9,451.3 L1505.7,461 L1534.4,469.3 L1563.1,476.7 L1591.8,483 L1591.8,529 L1563.1,521.7 L1534.4,513.6 L1505.7,504.7 L1476.9,494.8 L1448.2,484.1 L1419.5,472.5 L1390.8,460 L1362.1,446.8 L1333.4,433 L1304.7,418 L1275.9,401.6 L1247.2,384 L1218.5,365.3 L1189.8,345.1 L1161.1,324.5 L1132.4,303.7 L1103.6,282.5 L1074.9,260 L1046.2,235.7 L1017.5,175Z" fill="#a57fb8"/></g></g>
<g clip-path="url(#b_purple)"><g clip-path="url(#b_black)"><path d="M1017.5,130 L1046.2,190 L1074.9,212.5 L1103.6,237 L1132.4,260 L1161.1,282 L1189.8,303.3 L1218.5,323.7 L1247.2,342.7 L1275.9,360.4 L1304.7,376.7 L1333.4,391.7 L1362.1,405.6 L1390.8,418.3 L1419.5,430 L1448.2,440.9 L1476.9,451.3 L1505.7,461 L1534.4,469.3 L1563.1,476.7 L1591.8,483 L1591.8,529 L1563.1,521.7 L1534.4,513.6 L1505.7,504.7 L1476.9,494.8 L1448.2,484.1 L1419.5,472.5 L1390.8,460 L1362.1,446.8 L1333.4,433 L1304.7,418 L1275.9,401.6 L1247.2,384 L1218.5,365.3 L1189.8,345.1 L1161.1,324.5 L1132.4,303.7 L1103.6,282.5 L1074.9,260 L1046.2,235.7 L1017.5,175Z" fill="#a57fb8"/></g></g>
<g clip-path="url(#b_purple)"><g clip-path="url(#b_red)"><path d="M1017.5,130 L1046.2,190 L1074.9,212.5 L1103.6,237 L1132.4,260 L1161.1,282 L1189.8,303.3 L1218.5,323.7 L1247.2,342.7 L1275.9,360.4 L1304.7,376.7 L1333.4,391.7 L1362.1,405.6 L1390.8,418.3 L1419.5,430 L1448.2,440.9 L1476.9,451.3 L1505.7,461 L1534.4,469.3 L1563.1,476.7 L1591.8,483 L1591.8,529 L1563.1,521.7 L1534.4,513.6 L1505.7,504.7 L1476.9,494.8 L1448.2,484.1 L1419.5,472.5 L1390.8,460 L1362.1,446.8 L1333.4,433 L1304.7,418 L1275.9,401.6 L1247.2,384 L1218.5,365.3 L1189.8,345.1 L1161.1,324.5 L1132.4,303.7 L1103.6,282.5 L1074.9,260 L1046.2,235.7 L1017.5,175Z" fill="#a57fb8"/></g></g>
<g clip-path="url(#b_purple)"><g clip-path="url(#b_red)"><g clip-path="url(#b_black)"><path d="M1017.5,130 L1046.2,190 L1074.9,212.5 L1103.6,237 L1132.4,260 L1161.1,282 L1189.8,303.3 L1218.5,323.7 L1247.2,342.7 L1275.9,360.4 L1304.7,376.7 L1333.4,391.7 L1362.1,405.6 L1390.8,418.3 L1419.5,430 L1448.2,440.9 L1476.9,451.3 L1505.7,461 L1534.4,469.3 L1563.1,476.7 L1591.8,483 L1591.8,529 L1563.1,521.7 L1534.4,513.6 L1505.7,504.7 L1476.9,494.8 L1448.2,484.1 L1419.5,472.5 L1390.8,460 L1362.1,446.8 L1333.4,433 L1304.7,418 L1275.9,401.6 L1247.2,384 L1218.5,365.3 L1189.8,345.1 L1161.1,324.5 L1132.4,303.7 L1103.6,282.5 L1074.9,260 L1046.2,235.7 L1017.5,175Z" fill="#9870ae"/></g></g></g>
<path d="M1017.5,152.4 L1591.8,152.4" fill="none" stroke="#000000" stroke-width="4.1" stroke-linejoin="round"/>
<g clip-path="url(#b_red)"><path d="M1017.5,152.4 L1591.8,152.4" fill="none" stroke="#1c0000" stroke-width="4.1" stroke-linejoin="round"/></g>
<g clip-path="url(#b_purple)"><path d="M1017.5,152.4 L1591.8,152.4" fill="none" stroke="#150020" stroke-width="4.1" stroke-linejoin="round"/></g>
<g clip-path="url(#b_blue)"><path d="M1017.5,152.4 L1591.8,152.4" fill="none" stroke="#00001c" stroke-width="4.1" stroke-linejoin="round"/></g>
<g fill="#000000"><circle cx="1017.5" cy="150" r="4.9"/><circle cx="1017.5" cy="160" r="4.9"/><circle cx="1017.5" cy="171.5" r="4.9"/><circle cx="1089.3" cy="121.7" r="4.9"/><circle cx="1089.3" cy="156.2" r="4.9"/><circle cx="1089.3" cy="158.7" r="4.9"/><circle cx="1089.3" cy="221.2" r="4.9"/><circle cx="1161.1" cy="151.2" r="4.9"/><circle cx="1161.1" cy="157.5" r="4.9"/><circle cx="1161.1" cy="166.2" r="4.9"/><circle cx="1304.7" cy="109.2" r="4.9"/><circle cx="1304.7" cy="111.8" r="4.9"/><circle cx="1304.7" cy="131.2" r="4.9"/><circle cx="1304.7" cy="141.2" r="4.9"/><circle cx="1448.2" cy="109.5" r="4.9"/><circle cx="1448.2" cy="137" r="4.9"/><circle cx="1448.2" cy="161.7" r="4.9"/><circle cx="1448.2" cy="221.2" r="4.9"/><circle cx="1591.8" cy="145" r="4.9"/><circle cx="1591.8" cy="157.5" r="4.9"/><circle cx="1591.8" cy="164.4" r="4.9"/><circle cx="1591.8" cy="171.2" r="4.9"/></g>
<path d="M1017.5,152.4 L1046.2,210 L1074.9,225 L1103.6,232.5 L1132.4,237 L1161.1,240.7 L1189.8,243.2 L1218.5,245.3 L1247.2,247.1 L1275.9,248.7 L1304.7,250 L1333.4,250.9 L1362.1,251.7 L1390.8,252.3 L1419.5,252.8 L1448.2,253.2 L1476.9,253.6 L1505.7,254 L1534.4,254.4 L1563.1,254.7 L1591.8,255" fill="none" stroke="#ee2d2e" stroke-width="4.1" stroke-linejoin="round"/>
<g clip-path="url(#b_purple)"><path d="M1017.5,152.4 L1046.2,210 L1074.9,225 L1103.6,232.5 L1132.4,237 L1161.1,240.7 L1189.8,243.2 L1218.5,245.3 L1247.2,247.1 L1275.9,248.7 L1304.7,250 L1333.4,250.9 L1362.1,251.7 L1390.8,252.3 L1419.5,252.8 L1448.2,253.2 L1476.9,253.6 L1505.7,254 L1534.4,254.4 L1563.1,254.7 L1591.8,255" fill="none" stroke="#ee2238" stroke-width="4.1" stroke-linejoin="round"/></g>
<g clip-path="url(#b_blue)"><path d="M1017.5,152.4 L1046.2,210 L1074.9,225 L1103.6,232.5 L1132.4,237 L1161.1,240.7 L1189.8,243.2 L1218.5,245.3 L1247.2,247.1 L1275.9,248.7 L1304.7,250 L1333.4,250.9 L1362.1,251.7 L1390.8,252.3 L1419.5,252.8 L1448.2,253.2 L1476.9,253.6 L1505.7,254 L1534.4,254.4 L1563.1,254.7 L1591.8,255" fill="none" stroke="#cc1f4a" stroke-width="4.1" stroke-linejoin="round"/></g>
<g fill="#ee2d2e"><circle cx="1017.5" cy="146.3" r="4.9"/><circle cx="1017.5" cy="155" r="4.9"/><circle cx="1017.5" cy="188.2" r="4.9"/><circle cx="1089.3" cy="204.7" r="4.9"/><circle cx="1089.3" cy="217" r="4.9"/><circle cx="1161.1" cy="226.2" r="4.9"/><circle cx="1161.1" cy="233.7" r="4.9"/><circle cx="1161.1" cy="237.5" r="4.9"/><circle cx="1304.7" cy="216.7" r="4.9"/><circle cx="1304.7" cy="233.2" r="4.9"/><circle cx="1448.2" cy="273.7" r="4.9"/><circle cx="1448.2" cy="287.4" r="4.9"/><circle cx="1448.2" cy="292.4" r="4.9"/><circle cx="1591.8" cy="255" r="4.9"/><circle cx="1591.8" cy="273.7" r="4.9"/><circle cx="1591.8" cy="280" r="4.9"/></g>
<path d="M1017.5,152.4 L1046.2,156.2 L1074.9,164 L1103.6,172.8 L1132.4,182.7 L1161.1,192 L1189.8,200 L1218.5,207.3 L1247.2,214.1 L1275.9,220.5 L1304.7,226.2 L1333.4,231.3 L1362.1,235.9 L1390.8,240.1 L1419.5,244 L1448.2,247.5 L1476.9,250.7 L1505.7,253.6 L1534.4,256.3 L1563.1,258.9 L1591.8,261.2" fill="none" stroke="#8b479c" stroke-width="4.1" stroke-linejoin="round"/>
<g clip-path="url(#b_blue)"><path d="M1017.5,152.4 L1046.2,156.2 L1074.9,164 L1103.6,172.8 L1132.4,182.7 L1161.1,192 L1189.8,200 L1218.5,207.3 L1247.2,214.1 L1275.9,220.5 L1304.7,226.2 L1333.4,231.3 L1362.1,235.9 L1390.8,240.1 L1419.5,244 L1448.2,247.5 L1476.9,250.7 L1505.7,253.6 L1534.4,256.3 L1563.1,258.9 L1591.8,261.2" fill="none" stroke="#7040a0" stroke-width="4.1" stroke-linejoin="round"/></g>
<g fill="#8b479c"><circle cx="1017.5" cy="152" r="4.9"/><circle cx="1017.5" cy="162" r="4.9"/><circle cx="1089.3" cy="176.2" r="4.9"/><circle cx="1089.3" cy="186.2" r="4.9"/><circle cx="1089.3" cy="191.2" r="4.9"/><circle cx="1161.1" cy="200.3" r="4.9"/><circle cx="1161.1" cy="208.7" r="4.9"/><circle cx="1161.1" cy="216.2" r="4.9"/><circle cx="1304.7" cy="170" r="4.9"/><circle cx="1304.7" cy="185.3" r="4.9"/><circle cx="1304.7" cy="191.2" r="4.9"/><circle cx="1448.2" cy="232.5" r="4.9"/><circle cx="1448.2" cy="243.7" r="4.9"/><circle cx="1448.2" cy="248.7" r="4.9"/><circle cx="1448.2" cy="255" r="4.9"/><circle cx="1591.8" cy="236.2" r="4.9"/><circle cx="1591.8" cy="260" r="4.9"/><circle cx="1591.8" cy="265" r="4.9"/><circle cx="1591.8" cy="268.7" r="4.9"/></g>
<path d="M1017.5,152.4 L1046.2,213.9 L1074.9,240 L1103.6,262.5 L1132.4,283.7 L1161.1,304 L1189.8,324.5 L1218.5,344.7 L1247.2,363.5 L1275.9,381.3 L1304.7,397.6 L1333.4,412.1 L1362.1,425.4 L1390.8,438.2 L1419.5,450.7 L1448.2,462.1 L1476.9,472.4 L1505.7,481.7 L1534.4,490.3 L1563.1,498.2 L1591.8,505.4" fill="none" stroke="#2356a8" stroke-width="4.1" stroke-linejoin="round"/>
<g fill="#2356a8"><circle cx="1017.5" cy="149" r="4.9"/><circle cx="1017.5" cy="154" r="4.9"/><circle cx="1017.5" cy="159" r="4.9"/><circle cx="1017.5" cy="164" r="4.9"/><circle cx="1017.5" cy="168" r="4.9"/><circle cx="1089.3" cy="236.2" r="4.9"/><circle cx="1089.3" cy="241.2" r="4.9"/><circle cx="1089.3" cy="246.2" r="4.9"/><circle cx="1089.3" cy="341.2" r="4.9"/><circle cx="1161.1" cy="304.4" r="4.9"/><circle cx="1161.1" cy="317.6" r="4.9"/><circle cx="1161.1" cy="323.6" r="4.9"/><circle cx="1304.7" cy="380.7" r="4.9"/><circle cx="1304.7" cy="386.6" r="4.9"/><circle cx="1304.7" cy="397.6" r="4.9"/><circle cx="1448.2" cy="424.7" r="4.9"/><circle cx="1448.2" cy="465.3" r="4.9"/><circle cx="1448.2" cy="470" r="4.9"/><circle cx="1591.8" cy="475.1" r="4.9"/><circle cx="1591.8" cy="496" r="4.9"/><circle cx="1591.8" cy="505.4" r="4.9"/></g>
</g>
<g id="axes">
<g stroke="#1b1d20" stroke-width="4" fill="none">
<path d="M125.2,57.5 V576.3"/><path d="M123.4,571.2 H788"/>
<path d="M118,114.4 H125"/>
<path d="M118,175.1 H125"/>
<path d="M118,235.9 H125"/>
<path d="M118,296.6 H125"/>
<path d="M118,357.4 H125"/>
<path d="M118,418.1 H125"/>
<path d="M118,478.8 H125"/>
<path d="M118,539.6 H125"/>
<path d="M183.5,571 V577.9"/>
<path d="M313.3,571 V577.9"/>
<path d="M443.1,571 V577.9"/>
<path d="M572.9,571 V577.9"/>
<path d="M702.7,571 V577.9"/>
<path d="M960.4,66.5 V576.6"/><path d="M958.5,571.7 H1649"/>
<path d="M953.3,96.5 H960"/>
<path d="M953.3,160.5 H960"/>
<path d="M953.3,224.5 H960"/>
<path d="M953.3,288.5 H960"/>
<path d="M953.3,352.5 H960"/>
<path d="M953.3,416.5 H960"/>
<path d="M953.3,480.5 H960"/>
<path d="M953.3,544.5 H960"/>
<path d="M1017.5,571 V578.7"/>
<path d="M1161.1,571 V578.7"/>
<path d="M1304.7,571 V578.7"/>
<path d="M1448.2,571 V578.7"/>
<path d="M1591.8,571 V578.7"/>
</g>
</g>
<g id="labels">
<g font-family="'Liberation Sans', Arial, sans-serif" font-size="37.5" fill="#1b1d20">
<text transform="translate(106.8,129) scale(0.93,1)" text-anchor="end">0.8</text>
<text transform="translate(106.8,189.7) scale(0.93,1)" text-anchor="end">0.6</text>
<text transform="translate(106.8,250.5) scale(0.93,1)" text-anchor="end">0.4</text>
<text transform="translate(106.8,311.2) scale(0.93,1)" text-anchor="end">0.2</text>
<text transform="translate(103.3,372) scale(0.93,1)" text-anchor="end">0</text>
<text transform="translate(106.8,432.7) scale(0.93,1)" text-anchor="end">-0.2</text>
<text transform="translate(106.8,493.4) scale(0.93,1)" text-anchor="end">-0.4</text>
<text transform="translate(106.8,554.2) scale(0.93,1)" text-anchor="end">-0.6</text>
<text transform="translate(183.6,617.3) scale(0.85,1)" text-anchor="middle">0</text>
<text transform="translate(311.9,617.3) scale(0.85,1)" text-anchor="middle">2</text>
<text transform="translate(440.5,617.3) scale(0.85,1)" text-anchor="middle">4</text>
<text transform="translate(572.3,617.3) scale(0.85,1)" text-anchor="middle">6</text>
<text transform="translate(699.7,617.3) scale(0.85,1)" text-anchor="middle">8</text>
<text transform="translate(946.5,107.7) scale(0.93,1)" text-anchor="end">0.2</text>
<text transform="translate(942.6,171.7) scale(0.93,1)" text-anchor="end">0</text>
<text transform="translate(946.5,235.7) scale(0.93,1)" text-anchor="end">-0.2</text>
<text transform="translate(946.5,299.7) scale(0.93,1)" text-anchor="end">-0.4</text>
<text transform="translate(946.5,363.7) scale(0.93,1)" text-anchor="end">-0.6</text>
<text transform="translate(946.5,427.7) scale(0.93,1)" text-anchor="end">-0.8</text>
<text transform="translate(940.9,491.7) scale(0.93,1)" text-anchor="end">-1</text>
<text transform="translate(946.5,555.7) scale(0.93,1)" text-anchor="end">-1.2</text>
<text transform="translate(1018.3,617.3) scale(0.85,1)" text-anchor="middle">0</text>
<text transform="translate(1165.4,617.3) scale(0.85,1)" text-anchor="middle">5</text>
<text transform="translate(1312.3,617.3) scale(0.85,1)" text-anchor="middle">10</text>
<text transform="translate(1448.7,617.3) scale(0.85,1)" text-anchor="middle">15</text>
<text transform="translate(1598.2,617.3) scale(0.85,1)" text-anchor="middle">20</text>
</g>
<g font-family="'Liberation Sans', Arial, sans-serif" font-size="35.5" fill="#000">
<text x="312.7" y="654" textLength="191.9" lengthAdjust="spacingAndGlyphs">Illumination</text>
<text x="513.4" y="654" textLength="72.1" lengthAdjust="spacingAndGlyphs">time</text>
<text x="596.4" y="654" textLength="42.5" lengthAdjust="spacingAndGlyphs">[h]</text>
<text x="1151.7" y="654" textLength="135.9" lengthAdjust="spacingAndGlyphs">Intensity</text>
<text x="1301.5" y="654" textLength="92.2" lengthAdjust="spacingAndGlyphs">[µmol</text>
<text x="1403.5" y="654" textLength="30.8" lengthAdjust="spacingAndGlyphs">m</text>
<text x="1462.5" y="654" textLength="14.3" lengthAdjust="spacingAndGlyphs">s</text>
<text x="1497.2" y="654" textLength="9.8" lengthAdjust="spacingAndGlyphs">]</text>
<text x="1434" y="641" textLength="18.8" lengthAdjust="spacingAndGlyphs" font-size="21.2">-2</text>
<text x="1477.1" y="641" textLength="18.2" lengthAdjust="spacingAndGlyphs" font-size="21.2">-1</text>
<g transform="translate(31,511.7) rotate(-90)"><text x="-2.8" y="0" textLength="126.3" lengthAdjust="spacingAndGlyphs">Relative</text><text x="134.3" y="0" textLength="134.5" lengthAdjust="spacingAndGlyphs">reporter</text><text x="277.4" y="0" textLength="170.7" lengthAdjust="spacingAndGlyphs">expression</text></g>
<g transform="translate(870.2,511.7) rotate(-90)"><text x="-2.8" y="0" textLength="126.3" lengthAdjust="spacingAndGlyphs">Relative</text><text x="134.3" y="0" textLength="134.5" lengthAdjust="spacingAndGlyphs">reporter</text><text x="277.4" y="0" textLength="170.7" lengthAdjust="spacingAndGlyphs">expression</text></g>
</g>
<g font-family="'Liberation Sans', Arial, sans-serif" font-size="43" font-weight="bold" fill="#000">
<text transform="translate(-1.2,32.3) scale(0.87,1)">a</text><text transform="translate(834.6,31.7) scale(0.92,1)">b</text>
</g>
</g>
</svg>
</body></html>
